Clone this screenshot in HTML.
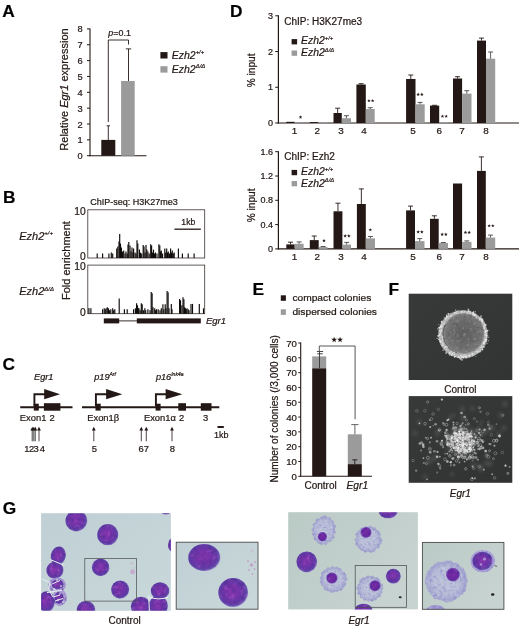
<!DOCTYPE html>
<html><head><meta charset="utf-8"><title>Figure</title>
<style>
html,body{margin:0;padding:0;background:#fff;}
body{width:520px;height:629px;overflow:hidden;}
svg{display:block;filter:blur(0.35px);}
svg text{font-family:"Liberation Sans",sans-serif;stroke:#231815;stroke-width:0.22px;}
</style></head><body>
<svg width="520" height="629" viewBox="0 0 520 629">
<defs>
<linearGradient id="fbg" x1="0" y1="0" x2="1" y2="1"><stop offset="0" stop-color="#383a3a"/><stop offset="1" stop-color="#323434"/></linearGradient>
<linearGradient id="fbg2" x1="0" y1="0" x2="1" y2="1"><stop offset="0" stop-color="#383a3a"/><stop offset="1" stop-color="#313333"/></linearGradient>
<radialGradient id="ring"><stop offset="0.75" stop-color="#989898"/><stop offset="0.9" stop-color="#b8b8b8"/><stop offset="0.97" stop-color="#a6a6a6"/><stop offset="1" stop-color="#707070"/></radialGradient>
<radialGradient id="colony"><stop offset="0" stop-color="#606060"/><stop offset="0.55" stop-color="#6a6a6a"/><stop offset="0.9" stop-color="#767676"/><stop offset="1" stop-color="#8a8a8a"/></radialGradient>
<radialGradient id="cloud"><stop offset="0" stop-color="#8c8c8c" stop-opacity="0.7"/><stop offset="0.5" stop-color="#7a7a7a" stop-opacity="0.5"/><stop offset="0.75" stop-color="#666" stop-opacity="0.2"/><stop offset="1" stop-color="#555" stop-opacity="0"/></radialGradient>
<linearGradient id="gbg1" x1="0" y1="0" x2="1" y2="1"><stop offset="0" stop-color="#bfcfd4"/><stop offset="1" stop-color="#c9d8da"/></linearGradient>
<linearGradient id="gbg2" x1="0" y1="0" x2="1" y2="0.6"><stop offset="0" stop-color="#bacac5"/><stop offset="1" stop-color="#c7d3d1"/></linearGradient>
<radialGradient id="pcell" cx="0.47" cy="0.47" r="0.53"><stop offset="0" stop-color="#8836ae"/><stop offset="0.45" stop-color="#7333a9"/><stop offset="0.8" stop-color="#5f3aa4"/><stop offset="0.93" stop-color="#6a52b0"/><stop offset="1" stop-color="#9f97cc"/></radialGradient>
<radialGradient id="lcell"><stop offset="0" stop-color="#bcc3d8"/><stop offset="0.7" stop-color="#b8bdd7"/><stop offset="0.9" stop-color="#abafd2"/><stop offset="1" stop-color="#a1a2cc"/></radialGradient>
<radialGradient id="nuc"><stop offset="0" stop-color="#7a2aa6"/><stop offset="0.75" stop-color="#63289e"/><stop offset="1" stop-color="#7d58ba"/></radialGradient>
<filter id="b05" x="-5%" y="-5%" width="110%" height="110%"><feGaussianBlur stdDeviation="0.35"/></filter>
<filter id="b06" x="-5%" y="-5%" width="110%" height="110%"><feGaussianBlur stdDeviation="0.5"/></filter>
<filter id="b08" x="-5%" y="-5%" width="110%" height="110%"><feGaussianBlur stdDeviation="0.7"/></filter>
<filter id="b2" x="-10%" y="-10%" width="120%" height="120%"><feGaussianBlur stdDeviation="1.6"/></filter>
<filter id="mottP" x="-5%" y="-5%" width="110%" height="110%" color-interpolation-filters="sRGB">
<feTurbulence type="fractalNoise" baseFrequency="0.28" numOctaves="2" seed="4" result="n"/>
<feColorMatrix in="n" type="matrix" values="0 0 0 0 0.72  0 0 0 0 0.38  0 0 0 0 0.8  1.6 0 0 0 -0.880" result="l0"/>
<feComposite in="l0" in2="SourceAlpha" operator="in" result="l1"/>
<feColorMatrix in="n" type="matrix" values="0 0 0 0 0.27  0 0 0 0 0.16  0 0 0 0 0.55  0 -1.5 0 0 0.750" result="d0"/>
<feComposite in="d0" in2="SourceAlpha" operator="in" result="d1"/>
<feMerge><feMergeNode in="SourceGraphic"/><feMergeNode in="l1"/><feMergeNode in="d1"/></feMerge>
</filter>
<filter id="mottP2" x="-5%" y="-5%" width="110%" height="110%" color-interpolation-filters="sRGB">
<feTurbulence type="fractalNoise" baseFrequency="0.17" numOctaves="2" seed="9" result="n"/>
<feColorMatrix in="n" type="matrix" values="0 0 0 0 0.72  0 0 0 0 0.38  0 0 0 0 0.8  1.6 0 0 0 -0.880" result="l0"/>
<feComposite in="l0" in2="SourceAlpha" operator="in" result="l1"/>
<feColorMatrix in="n" type="matrix" values="0 0 0 0 0.27  0 0 0 0 0.16  0 0 0 0 0.55  0 -1.5 0 0 0.750" result="d0"/>
<feComposite in="d0" in2="SourceAlpha" operator="in" result="d1"/>
<feMerge><feMergeNode in="SourceGraphic"/><feMergeNode in="l1"/><feMergeNode in="d1"/></feMerge>
</filter>
<filter id="mottL" x="-5%" y="-5%" width="110%" height="110%" color-interpolation-filters="sRGB">
<feTurbulence type="fractalNoise" baseFrequency="0.45" numOctaves="2" seed="5" result="n"/>
<feColorMatrix in="n" type="matrix" values="0 0 0 0 0.86  0 0 0 0 0.88  0 0 0 0 0.93  1.5 0 0 0 -0.825" result="l0"/>
<feComposite in="l0" in2="SourceAlpha" operator="in" result="l1"/>
<feColorMatrix in="n" type="matrix" values="0 0 0 0 0.52  0 0 0 0 0.5  0 0 0 0 0.78  0 -1.6 0 0 0.800" result="d0"/>
<feComposite in="d0" in2="SourceAlpha" operator="in" result="d1"/>
<feMerge><feMergeNode in="SourceGraphic"/><feMergeNode in="l1"/><feMergeNode in="d1"/></feMerge>
</filter>
<filter id="mottL2" x="-5%" y="-5%" width="110%" height="110%" color-interpolation-filters="sRGB">
<feTurbulence type="fractalNoise" baseFrequency="0.3" numOctaves="2" seed="11" result="n"/>
<feColorMatrix in="n" type="matrix" values="0 0 0 0 0.86  0 0 0 0 0.88  0 0 0 0 0.93  1.5 0 0 0 -0.825" result="l0"/>
<feComposite in="l0" in2="SourceAlpha" operator="in" result="l1"/>
<feColorMatrix in="n" type="matrix" values="0 0 0 0 0.52  0 0 0 0 0.5  0 0 0 0 0.78  0 -1.6 0 0 0.800" result="d0"/>
<feComposite in="d0" in2="SourceAlpha" operator="in" result="d1"/>
<feMerge><feMergeNode in="SourceGraphic"/><feMergeNode in="l1"/><feMergeNode in="d1"/></feMerge>
</filter>
<filter id="mottG" x="-5%" y="-5%" width="110%" height="110%" color-interpolation-filters="sRGB">
<feTurbulence type="fractalNoise" baseFrequency="0.3" numOctaves="2" seed="2" result="n"/>
<feColorMatrix in="n" type="matrix" values="0 0 0 0 0.72  0 0 0 0 0.72  0 0 0 0 0.72  1.2 0 0 0 -0.660" result="l0"/>
<feComposite in="l0" in2="SourceAlpha" operator="in" result="l1"/>
<feColorMatrix in="n" type="matrix" values="0 0 0 0 0.3  0 0 0 0 0.3  0 0 0 0 0.3  0 -1.2 0 0 0.600" result="d0"/>
<feComposite in="d0" in2="SourceAlpha" operator="in" result="d1"/>
<feMerge><feMergeNode in="SourceGraphic"/><feMergeNode in="l1"/><feMergeNode in="d1"/></feMerge>
</filter>
</defs>
<rect x="0" y="0" width="520" height="629" fill="#ffffff"/>
<text x="2.3" y="17.2" text-anchor="start" fill="#000" style="font-size:17.3px;font-weight:bold;" >A</text>
<text x="3.0" y="203.1" text-anchor="start" fill="#000" style="font-size:17.3px;font-weight:bold;" >B</text>
<text x="2.6" y="369.6" text-anchor="start" fill="#000" style="font-size:17.3px;font-weight:bold;" >C</text>
<text x="230.0" y="17.1" text-anchor="start" fill="#000" style="font-size:17.3px;font-weight:bold;" >D</text>
<text x="252.6" y="294.6" text-anchor="start" fill="#000" style="font-size:17.3px;font-weight:bold;" >E</text>
<text x="388.6" y="294.5" text-anchor="start" fill="#000" style="font-size:17.3px;font-weight:bold;" >F</text>
<text x="2.8" y="513.8" text-anchor="start" fill="#000" style="font-size:17.3px;font-weight:bold;" >G</text>
<line x1="90.0" y1="28.4" x2="90.0" y2="156.2" stroke="#231815" stroke-width="1.1" />
<line x1="89.5" y1="155.7" x2="146.5" y2="155.7" stroke="#231815" stroke-width="1.1" />
<line x1="87.0" y1="155.7" x2="90.0" y2="155.7" stroke="#231815" stroke-width="1" />
<text x="82.7" y="159.2" text-anchor="end" fill="#231815" style="font-size:9.3px;" >0</text>
<line x1="87.0" y1="139.85" x2="90.0" y2="139.85" stroke="#231815" stroke-width="1" />
<text x="82.7" y="143.35" text-anchor="end" fill="#231815" style="font-size:9.3px;" >1</text>
<line x1="87.0" y1="124.0" x2="90.0" y2="124.0" stroke="#231815" stroke-width="1" />
<text x="82.7" y="127.5" text-anchor="end" fill="#231815" style="font-size:9.3px;" >2</text>
<line x1="87.0" y1="108.14999999999999" x2="90.0" y2="108.14999999999999" stroke="#231815" stroke-width="1" />
<text x="82.7" y="111.64999999999999" text-anchor="end" fill="#231815" style="font-size:9.3px;" >3</text>
<line x1="87.0" y1="92.3" x2="90.0" y2="92.3" stroke="#231815" stroke-width="1" />
<text x="82.7" y="95.8" text-anchor="end" fill="#231815" style="font-size:9.3px;" >4</text>
<line x1="87.0" y1="76.45" x2="90.0" y2="76.45" stroke="#231815" stroke-width="1" />
<text x="82.7" y="79.95" text-anchor="end" fill="#231815" style="font-size:9.3px;" >5</text>
<line x1="87.0" y1="60.599999999999994" x2="90.0" y2="60.599999999999994" stroke="#231815" stroke-width="1" />
<text x="82.7" y="64.1" text-anchor="end" fill="#231815" style="font-size:9.3px;" >6</text>
<line x1="87.0" y1="44.75" x2="90.0" y2="44.75" stroke="#231815" stroke-width="1" />
<text x="82.7" y="48.25" text-anchor="end" fill="#231815" style="font-size:9.3px;" >7</text>
<line x1="87.0" y1="28.900000000000006" x2="90.0" y2="28.900000000000006" stroke="#231815" stroke-width="1" />
<text x="82.7" y="32.400000000000006" text-anchor="end" fill="#231815" style="font-size:9.3px;" >8</text>
<text transform="translate(67.5,89.5) rotate(-90)" text-anchor="middle" fill="#231815" style="font-size:11px">Relative <tspan style="font-style:italic">Egr1</tspan> expression</text>
<rect x="101.30" y="139.90" width="14.00" height="15.80" fill="#231815" />
<rect x="121.10" y="81.00" width="13.60" height="74.70" fill="#9b9b9b" />
<line x1="108.3" y1="139.9" x2="108.3" y2="125.8" stroke="#231815" stroke-width="0.9" />
<line x1="106.6" y1="125.8" x2="110.0" y2="125.8" stroke="#231815" stroke-width="0.9" />
<line x1="128.5" y1="81.0" x2="128.5" y2="48.9" stroke="#231815" stroke-width="0.9" />
<line x1="125.8" y1="48.9" x2="131.2" y2="48.9" stroke="#231815" stroke-width="0.9" />
<polyline points="108.3,122.0 108.3,40.0 128.5,40.0 128.5,44.5" fill="none" stroke="#231815" stroke-width="0.9"/>
<text x="119.6" y="36.0" text-anchor="middle" fill="#231815" style="font-size:8.9px"><tspan style="font-style:italic">p</tspan>=0.1</text>
<rect x="160.40" y="52.10" width="7.10" height="6.40" fill="#231815" />
<rect x="160.40" y="66.20" width="7.10" height="6.40" fill="#9b9b9b" />
<text transform="translate(171.7,58.8) scale(1.05,1)" fill="#231815" style="font-size:10.0px;font-style:italic">Ezh2<tspan dy="-4.50" style="font-size:5.7px">+/+</tspan></text>
<text transform="translate(171.7,72.6) scale(1.05,1)" fill="#231815" style="font-size:10.0px;font-style:italic">Ezh2<tspan dy="-4.50" style="font-size:5.7px">&#916;/&#916;</tspan></text>
<line x1="278.4" y1="15.3" x2="278.4" y2="123.5" stroke="#231815" stroke-width="1.2" />
<line x1="277.9" y1="123.0" x2="519" y2="123.0" stroke="#231815" stroke-width="1.2" />
<line x1="275.2" y1="123.0" x2="278.4" y2="123.0" stroke="#231815" stroke-width="1" />
<text x="272.9" y="126.1" text-anchor="end" fill="#231815" style="font-size:9px;" >0</text>
<line x1="275.2" y1="87.26666666666667" x2="278.4" y2="87.26666666666667" stroke="#231815" stroke-width="1" />
<text x="272.9" y="90.36666666666666" text-anchor="end" fill="#231815" style="font-size:9px;" >1</text>
<line x1="275.2" y1="51.53333333333333" x2="278.4" y2="51.53333333333333" stroke="#231815" stroke-width="1" />
<text x="272.9" y="54.63333333333333" text-anchor="end" fill="#231815" style="font-size:9px;" >2</text>
<line x1="275.2" y1="15.799999999999997" x2="278.4" y2="15.799999999999997" stroke="#231815" stroke-width="1" />
<text x="272.9" y="18.9" text-anchor="end" fill="#231815" style="font-size:9px;" >3</text>
<text x="284.3" y="25.1" text-anchor="start" fill="#231815" style="font-size:10px;" >ChIP: H3K27me3</text>
<rect x="291.60" y="39.10" width="5.50" height="5.30" fill="#231815" />
<rect x="291.60" y="50.50" width="5.50" height="5.30" fill="#9b9b9b" />
<text transform="translate(301.1,44.4) scale(1.04,1)" fill="#231815" style="font-size:10.0px;font-style:italic">Ezh2<tspan dy="-4.20" style="font-size:5.6px">+/+</tspan></text>
<text transform="translate(301.1,56.4) scale(1.04,1)" fill="#231815" style="font-size:10.0px;font-style:italic">Ezh2<tspan dy="-4.20" style="font-size:5.6px">&#916;/&#916;</tspan></text>
<rect x="286.30" y="121.80" width="8.30" height="1.20" fill="#231815" />
<rect x="294.60" y="122.40" width="8.20" height="0.60" fill="#9b9b9b" />
<rect x="309.80" y="122.10" width="8.60" height="0.90" fill="#231815" />
<rect x="318.40" y="122.20" width="8.60" height="0.80" fill="#9b9b9b" />
<rect x="333.50" y="113.00" width="8.30" height="10.00" fill="#231815" />
<rect x="341.80" y="118.20" width="9.20" height="4.80" fill="#9b9b9b" />
<line x1="337.65" y1="113.0" x2="337.65" y2="108.2" stroke="#231815" stroke-width="0.9" />
<line x1="335.15" y1="108.2" x2="340.15" y2="108.2" stroke="#231815" stroke-width="0.9" />
<line x1="346.4" y1="118.2" x2="346.4" y2="115.7" stroke="#4a4a4a" stroke-width="0.9" />
<line x1="343.9" y1="115.7" x2="348.9" y2="115.7" stroke="#4a4a4a" stroke-width="0.9" />
<rect x="356.40" y="84.50" width="9.40" height="38.50" fill="#231815" />
<rect x="365.80" y="109.00" width="8.90" height="14.00" fill="#9b9b9b" />
<line x1="361.1" y1="84.5" x2="361.1" y2="83.7" stroke="#231815" stroke-width="0.9" />
<line x1="358.6" y1="83.7" x2="363.6" y2="83.7" stroke="#231815" stroke-width="0.9" />
<line x1="370.25" y1="109.0" x2="370.25" y2="107.7" stroke="#4a4a4a" stroke-width="0.9" />
<line x1="367.75" y1="107.7" x2="372.75" y2="107.7" stroke="#4a4a4a" stroke-width="0.9" />
<rect x="406.10" y="79.00" width="9.40" height="44.00" fill="#231815" />
<rect x="415.50" y="104.30" width="9.20" height="18.70" fill="#9b9b9b" />
<line x1="410.8" y1="79.0" x2="410.8" y2="75.0" stroke="#231815" stroke-width="0.9" />
<line x1="408.3" y1="75.0" x2="413.3" y2="75.0" stroke="#231815" stroke-width="0.9" />
<line x1="420.1" y1="104.3" x2="420.1" y2="102.4" stroke="#4a4a4a" stroke-width="0.9" />
<line x1="417.6" y1="102.4" x2="422.6" y2="102.4" stroke="#4a4a4a" stroke-width="0.9" />
<rect x="430.00" y="105.60" width="9.20" height="17.40" fill="#231815" />
<rect x="439.20" y="122.00" width="8.80" height="1.00" fill="#9b9b9b" />
<line x1="434.6" y1="105.6" x2="434.6" y2="105.3" stroke="#231815" stroke-width="0.9" />
<line x1="432.1" y1="105.3" x2="437.1" y2="105.3" stroke="#231815" stroke-width="0.9" />
<rect x="453.00" y="78.50" width="9.10" height="44.50" fill="#231815" />
<rect x="462.10" y="93.60" width="9.40" height="29.40" fill="#9b9b9b" />
<line x1="457.55" y1="78.5" x2="457.55" y2="76.7" stroke="#231815" stroke-width="0.9" />
<line x1="455.05" y1="76.7" x2="460.05" y2="76.7" stroke="#231815" stroke-width="0.9" />
<line x1="466.8" y1="93.6" x2="466.8" y2="90.7" stroke="#4a4a4a" stroke-width="0.9" />
<line x1="464.3" y1="90.7" x2="469.3" y2="90.7" stroke="#4a4a4a" stroke-width="0.9" />
<rect x="477.00" y="40.60" width="9.00" height="82.40" fill="#231815" />
<rect x="486.00" y="58.70" width="9.20" height="64.30" fill="#9b9b9b" />
<line x1="481.5" y1="40.6" x2="481.5" y2="38.1" stroke="#231815" stroke-width="0.9" />
<line x1="479.0" y1="38.1" x2="484.0" y2="38.1" stroke="#231815" stroke-width="0.9" />
<line x1="490.6" y1="58.7" x2="490.6" y2="52.0" stroke="#4a4a4a" stroke-width="0.9" />
<line x1="488.1" y1="52.0" x2="493.1" y2="52.0" stroke="#4a4a4a" stroke-width="0.9" />
<polygon points="300.50,115.20 300.97,116.45 302.31,116.51 301.26,117.35 301.62,118.64 300.50,117.90 299.38,118.64 299.74,117.35 298.69,116.51 300.03,116.45" fill="#231815"/>
<polygon points="368.95,98.90 369.42,100.15 370.76,100.21 369.71,101.05 370.07,102.34 368.95,101.60 367.83,102.34 368.19,101.05 367.14,100.21 368.48,100.15" fill="#231815"/>
<polygon points="372.65,98.90 373.12,100.15 374.46,100.21 373.41,101.05 373.77,102.34 372.65,101.60 371.53,102.34 371.89,101.05 370.84,100.21 372.18,100.15" fill="#231815"/>
<polygon points="418.15,92.60 418.62,93.85 419.96,93.91 418.91,94.75 419.27,96.04 418.15,95.30 417.03,96.04 417.39,94.75 416.34,93.91 417.68,93.85" fill="#231815"/>
<polygon points="421.85,92.60 422.32,93.85 423.66,93.91 422.61,94.75 422.97,96.04 421.85,95.30 420.73,96.04 421.09,94.75 420.04,93.91 421.38,93.85" fill="#231815"/>
<polygon points="442.45,114.40 442.92,115.65 444.26,115.71 443.21,116.55 443.57,117.84 442.45,117.10 441.33,117.84 441.69,116.55 440.64,115.71 441.98,115.65" fill="#231815"/>
<polygon points="446.15,114.40 446.62,115.65 447.96,115.71 446.91,116.55 447.27,117.84 446.15,117.10 445.03,117.84 445.39,116.55 444.34,115.71 445.68,115.65" fill="#231815"/>
<text x="294.4" y="134.0" text-anchor="middle" fill="#231815" style="font-size:9.9px;" >1</text>
<text x="317.3" y="134.0" text-anchor="middle" fill="#231815" style="font-size:9.9px;" >2</text>
<text x="341.0" y="134.0" text-anchor="middle" fill="#231815" style="font-size:9.9px;" >3</text>
<text x="363.9" y="134.0" text-anchor="middle" fill="#231815" style="font-size:9.9px;" >4</text>
<text x="413.0" y="134.0" text-anchor="middle" fill="#231815" style="font-size:9.9px;" >5</text>
<text x="439.2" y="134.0" text-anchor="middle" fill="#231815" style="font-size:9.9px;" >6</text>
<text x="462.0" y="134.0" text-anchor="middle" fill="#231815" style="font-size:9.9px;" >7</text>
<text x="486.0" y="134.0" text-anchor="middle" fill="#231815" style="font-size:9.9px;" >8</text>
<text transform="translate(255.2,70.4) rotate(-90)" text-anchor="middle" fill="#231815" style="font-size:10.1px">% input</text>
<line x1="278.4" y1="151.20000000000002" x2="278.4" y2="249.4" stroke="#231815" stroke-width="1.2" />
<line x1="277.9" y1="248.9" x2="519" y2="248.9" stroke="#231815" stroke-width="1.2" />
<line x1="275.2" y1="248.9" x2="278.4" y2="248.9" stroke="#231815" stroke-width="1" />
<text x="272.9" y="252.0" text-anchor="end" fill="#231815" style="font-size:9px;" >0</text>
<line x1="275.2" y1="224.60000000000002" x2="278.4" y2="224.60000000000002" stroke="#231815" stroke-width="1" />
<text x="272.9" y="227.70000000000002" text-anchor="end" fill="#231815" style="font-size:9px;" >0.4</text>
<line x1="275.2" y1="200.3" x2="278.4" y2="200.3" stroke="#231815" stroke-width="1" />
<text x="272.9" y="203.4" text-anchor="end" fill="#231815" style="font-size:9px;" >0.8</text>
<line x1="275.2" y1="176.0" x2="278.4" y2="176.0" stroke="#231815" stroke-width="1" />
<text x="272.9" y="179.1" text-anchor="end" fill="#231815" style="font-size:9px;" >1.2</text>
<line x1="275.2" y1="151.70000000000002" x2="278.4" y2="151.70000000000002" stroke="#231815" stroke-width="1" />
<text x="272.9" y="154.8" text-anchor="end" fill="#231815" style="font-size:9px;" >1.6</text>
<text x="284.3" y="160.1" text-anchor="start" fill="#231815" style="font-size:10px;" >ChIP: Ezh2</text>
<rect x="291.60" y="169.90" width="5.50" height="5.30" fill="#231815" />
<rect x="291.60" y="181.00" width="5.50" height="5.30" fill="#9b9b9b" />
<text transform="translate(301.1,174.9) scale(1.04,1)" fill="#231815" style="font-size:10.0px;font-style:italic">Ezh2<tspan dy="-4.20" style="font-size:5.6px">+/+</tspan></text>
<text transform="translate(301.1,186.5) scale(1.04,1)" fill="#231815" style="font-size:10.0px;font-style:italic">Ezh2<tspan dy="-4.20" style="font-size:5.6px">&#916;/&#916;</tspan></text>
<rect x="286.30" y="244.40" width="8.40" height="4.50" fill="#231815" />
<rect x="294.70" y="243.80" width="8.90" height="5.10" fill="#9b9b9b" />
<line x1="290.5" y1="244.4" x2="290.5" y2="242.20000000000002" stroke="#231815" stroke-width="0.9" />
<line x1="288.0" y1="242.20000000000002" x2="293.0" y2="242.20000000000002" stroke="#231815" stroke-width="0.9" />
<line x1="299.15" y1="243.8" x2="299.15" y2="241.9" stroke="#4a4a4a" stroke-width="0.9" />
<line x1="296.65" y1="241.9" x2="301.65" y2="241.9" stroke="#4a4a4a" stroke-width="0.9" />
<rect x="309.80" y="240.10" width="8.90" height="8.80" fill="#231815" />
<rect x="318.70" y="247.00" width="8.80" height="1.90" fill="#9b9b9b" />
<line x1="314.25" y1="240.1" x2="314.25" y2="236.0" stroke="#231815" stroke-width="0.9" />
<line x1="311.75" y1="236.0" x2="316.75" y2="236.0" stroke="#231815" stroke-width="0.9" />
<line x1="323.1" y1="247.0" x2="323.1" y2="246.5" stroke="#4a4a4a" stroke-width="0.9" />
<line x1="320.6" y1="246.5" x2="325.6" y2="246.5" stroke="#4a4a4a" stroke-width="0.9" />
<rect x="333.50" y="211.30" width="8.90" height="37.60" fill="#231815" />
<rect x="342.40" y="244.60" width="8.60" height="4.30" fill="#9b9b9b" />
<line x1="337.95" y1="211.3" x2="337.95" y2="203.20000000000002" stroke="#231815" stroke-width="0.9" />
<line x1="335.45" y1="203.20000000000002" x2="340.45" y2="203.20000000000002" stroke="#231815" stroke-width="0.9" />
<line x1="346.7" y1="244.6" x2="346.7" y2="242.4" stroke="#4a4a4a" stroke-width="0.9" />
<line x1="344.2" y1="242.4" x2="349.2" y2="242.4" stroke="#4a4a4a" stroke-width="0.9" />
<rect x="356.90" y="204.00" width="8.90" height="44.90" fill="#231815" />
<rect x="365.80" y="238.40" width="9.20" height="10.50" fill="#9b9b9b" />
<line x1="361.35" y1="204.0" x2="361.35" y2="188.9" stroke="#231815" stroke-width="0.9" />
<line x1="358.85" y1="188.9" x2="363.85" y2="188.9" stroke="#231815" stroke-width="0.9" />
<line x1="370.4" y1="238.4" x2="370.4" y2="236.5" stroke="#4a4a4a" stroke-width="0.9" />
<line x1="367.9" y1="236.5" x2="372.9" y2="236.5" stroke="#4a4a4a" stroke-width="0.9" />
<rect x="406.10" y="210.40" width="8.90" height="38.50" fill="#231815" />
<rect x="415.00" y="241.10" width="9.50" height="7.80" fill="#9b9b9b" />
<line x1="410.55" y1="210.4" x2="410.55" y2="206.1" stroke="#231815" stroke-width="0.9" />
<line x1="408.05" y1="206.1" x2="413.05" y2="206.1" stroke="#231815" stroke-width="0.9" />
<line x1="419.75" y1="241.1" x2="419.75" y2="238.6" stroke="#4a4a4a" stroke-width="0.9" />
<line x1="417.25" y1="238.6" x2="422.25" y2="238.6" stroke="#4a4a4a" stroke-width="0.9" />
<rect x="430.00" y="218.80" width="8.70" height="30.10" fill="#231815" />
<rect x="438.70" y="243.00" width="9.30" height="5.90" fill="#9b9b9b" />
<line x1="434.35" y1="218.8" x2="434.35" y2="215.8" stroke="#231815" stroke-width="0.9" />
<line x1="431.85" y1="215.8" x2="436.85" y2="215.8" stroke="#231815" stroke-width="0.9" />
<line x1="443.35" y1="243.0" x2="443.35" y2="242.5" stroke="#4a4a4a" stroke-width="0.9" />
<line x1="440.85" y1="242.5" x2="445.85" y2="242.5" stroke="#4a4a4a" stroke-width="0.9" />
<rect x="453.00" y="183.50" width="9.10" height="65.40" fill="#231815" />
<rect x="462.10" y="241.90" width="9.40" height="7.00" fill="#9b9b9b" />
<line x1="466.8" y1="241.9" x2="466.8" y2="240.9" stroke="#4a4a4a" stroke-width="0.9" />
<line x1="464.3" y1="240.9" x2="469.3" y2="240.9" stroke="#4a4a4a" stroke-width="0.9" />
<rect x="477.00" y="170.90" width="8.80" height="78.00" fill="#231815" />
<rect x="485.80" y="237.60" width="9.40" height="11.30" fill="#9b9b9b" />
<line x1="481.4" y1="170.9" x2="481.4" y2="156.9" stroke="#231815" stroke-width="0.9" />
<line x1="478.9" y1="156.9" x2="483.9" y2="156.9" stroke="#231815" stroke-width="0.9" />
<line x1="490.5" y1="237.6" x2="490.5" y2="235.1" stroke="#4a4a4a" stroke-width="0.9" />
<line x1="488.0" y1="235.1" x2="493.0" y2="235.1" stroke="#4a4a4a" stroke-width="0.9" />
<polygon points="324.00,238.70 324.47,239.95 325.81,240.01 324.76,240.85 325.12,242.14 324.00,241.40 322.88,242.14 323.24,240.85 322.19,240.01 323.53,239.95" fill="#231815"/>
<polygon points="345.15,234.10 345.62,235.35 346.96,235.41 345.91,236.25 346.27,237.54 345.15,236.80 344.03,237.54 344.39,236.25 343.34,235.41 344.68,235.35" fill="#231815"/>
<polygon points="348.85,234.10 349.32,235.35 350.66,235.41 349.61,236.25 349.97,237.54 348.85,236.80 347.73,237.54 348.09,236.25 347.04,235.41 348.38,235.35" fill="#231815"/>
<polygon points="370.30,227.90 370.77,229.15 372.11,229.21 371.06,230.05 371.42,231.34 370.30,230.60 369.18,231.34 369.54,230.05 368.49,229.21 369.83,229.15" fill="#231815"/>
<polygon points="418.15,230.10 418.62,231.35 419.96,231.41 418.91,232.25 419.27,233.54 418.15,232.80 417.03,233.54 417.39,232.25 416.34,231.41 417.68,231.35" fill="#231815"/>
<polygon points="421.85,230.10 422.32,231.35 423.66,231.41 422.61,232.25 422.97,233.54 421.85,232.80 420.73,233.54 421.09,232.25 420.04,231.41 421.38,231.35" fill="#231815"/>
<polygon points="442.15,232.50 442.62,233.75 443.96,233.81 442.91,234.65 443.27,235.94 442.15,235.20 441.03,235.94 441.39,234.65 440.34,233.81 441.68,233.75" fill="#231815"/>
<polygon points="445.85,232.50 446.32,233.75 447.66,233.81 446.61,234.65 446.97,235.94 445.85,235.20 444.73,235.94 445.09,234.65 444.04,233.81 445.38,233.75" fill="#231815"/>
<polygon points="465.45,230.60 465.92,231.85 467.26,231.91 466.21,232.75 466.57,234.04 465.45,233.30 464.33,234.04 464.69,232.75 463.64,231.91 464.98,231.85" fill="#231815"/>
<polygon points="469.15,230.60 469.62,231.85 470.96,231.91 469.91,232.75 470.27,234.04 469.15,233.30 468.03,234.04 468.39,232.75 467.34,231.91 468.68,231.85" fill="#231815"/>
<polygon points="489.15,223.90 489.62,225.15 490.96,225.21 489.91,226.05 490.27,227.34 489.15,226.60 488.03,227.34 488.39,226.05 487.34,225.21 488.68,225.15" fill="#231815"/>
<polygon points="492.85,223.90 493.32,225.15 494.66,225.21 493.61,226.05 493.97,227.34 492.85,226.60 491.73,227.34 492.09,226.05 491.04,225.21 492.38,225.15" fill="#231815"/>
<text x="294.4" y="259.6" text-anchor="middle" fill="#231815" style="font-size:9.9px;" >1</text>
<text x="317.3" y="259.6" text-anchor="middle" fill="#231815" style="font-size:9.9px;" >2</text>
<text x="341.0" y="259.6" text-anchor="middle" fill="#231815" style="font-size:9.9px;" >3</text>
<text x="363.9" y="259.6" text-anchor="middle" fill="#231815" style="font-size:9.9px;" >4</text>
<text x="413.0" y="259.6" text-anchor="middle" fill="#231815" style="font-size:9.9px;" >5</text>
<text x="439.2" y="259.6" text-anchor="middle" fill="#231815" style="font-size:9.9px;" >6</text>
<text x="462.0" y="259.6" text-anchor="middle" fill="#231815" style="font-size:9.9px;" >7</text>
<text x="486.0" y="259.6" text-anchor="middle" fill="#231815" style="font-size:9.9px;" >8</text>
<text transform="translate(255.2,205.4) rotate(-90)" text-anchor="middle" fill="#231815" style="font-size:10.1px">% input</text>
<text x="90.2" y="205.3" text-anchor="start" fill="#231815" style="font-size:9px;" >ChIP-seq: H3K27me3</text>
<rect x="87.8" y="209.8" width="116.89999999999999" height="48.19999999999999" fill="none" stroke="#3a3230" stroke-width="0.8"/>
<text x="85.8" y="214.8" text-anchor="end" fill="#231815" style="font-size:10.3px;" >10</text>
<text x="85.8" y="260.0" text-anchor="end" fill="#231815" style="font-size:10.3px;" >0</text>
<rect x="87.8" y="265.1" width="116.89999999999999" height="48.599999999999966" fill="none" stroke="#3a3230" stroke-width="0.8"/>
<text x="85.8" y="270.1" text-anchor="end" fill="#231815" style="font-size:10.3px;" >10</text>
<text x="85.8" y="315.7" text-anchor="end" fill="#231815" style="font-size:10.3px;" >0</text>
<text transform="translate(69.8,260.6) rotate(-90)" text-anchor="middle" fill="#231815" style="font-size:11px">Fold enrichment</text>
<text transform="translate(19.2,239.8) scale(1.0,1)" fill="#231815" style="font-size:11px;font-style:italic">Ezh2<tspan dy="-4.62" style="font-size:6.0px">+/+</tspan></text>
<text transform="translate(19.2,295.4) scale(1.0,1)" fill="#231815" style="font-size:11px;font-style:italic">Ezh2<tspan dy="-4.62" style="font-size:6.0px">&#916;/&#916;</tspan></text>
<line x1="174.4" y1="229.2" x2="200.8" y2="229.2" stroke="#231815" stroke-width="1.3" />
<text x="188.3" y="224.7" text-anchor="middle" fill="#231815" style="font-size:8.6px;" >1kb</text>
<line x1="97.2" y1="258.0" x2="97.2" y2="253.6" stroke="#0d0908" stroke-width="1.15" />
<line x1="102.6" y1="258.0" x2="102.6" y2="253.6" stroke="#0d0908" stroke-width="1.15" />
<line x1="108.9" y1="258.0" x2="108.9" y2="253.6" stroke="#0d0908" stroke-width="1.15" />
<line x1="111.3" y1="258.0" x2="111.3" y2="252.6" stroke="#0d0908" stroke-width="1.15" />
<line x1="112.7" y1="258.0" x2="112.7" y2="253.6" stroke="#0d0908" stroke-width="1.15" />
<line x1="116.7" y1="258.0" x2="116.7" y2="248.6" stroke="#0d0908" stroke-width="1.15" />
<line x1="117.8" y1="258.0" x2="117.8" y2="246.6" stroke="#0d0908" stroke-width="1.15" />
<line x1="119.0" y1="258.0" x2="119.0" y2="241.6" stroke="#0d0908" stroke-width="1.15" />
<line x1="119.7" y1="258.0" x2="119.7" y2="234.1" stroke="#0d0908" stroke-width="1.15" />
<line x1="120.5" y1="258.0" x2="120.5" y2="243.6" stroke="#0d0908" stroke-width="1.15" />
<line x1="121.4" y1="258.0" x2="121.4" y2="247.6" stroke="#0d0908" stroke-width="1.15" />
<line x1="122.5" y1="258.0" x2="122.5" y2="251.6" stroke="#0d0908" stroke-width="1.15" />
<line x1="123.7" y1="258.0" x2="123.7" y2="250.6" stroke="#0d0908" stroke-width="1.15" />
<line x1="125" y1="258.0" x2="125" y2="253.6" stroke="#0d0908" stroke-width="1.15" />
<line x1="126" y1="258.0" x2="126" y2="251.6" stroke="#0d0908" stroke-width="1.15" />
<line x1="127.2" y1="258.0" x2="127.2" y2="253.6" stroke="#0d0908" stroke-width="1.15" />
<line x1="128" y1="258.0" x2="128" y2="244.6" stroke="#0d0908" stroke-width="1.15" />
<line x1="128.8" y1="258.0" x2="128.8" y2="241.9" stroke="#0d0908" stroke-width="1.15" />
<line x1="130" y1="258.0" x2="130" y2="245.6" stroke="#0d0908" stroke-width="1.15" />
<line x1="131" y1="258.0" x2="131" y2="251.6" stroke="#0d0908" stroke-width="1.15" />
<line x1="132" y1="258.0" x2="132" y2="247.6" stroke="#0d0908" stroke-width="1.15" />
<line x1="133" y1="258.0" x2="133" y2="252.6" stroke="#0d0908" stroke-width="1.15" />
<line x1="133.6" y1="258.0" x2="133.6" y2="248.6" stroke="#0d0908" stroke-width="1.15" />
<line x1="135" y1="258.0" x2="135" y2="252.6" stroke="#0d0908" stroke-width="1.15" />
<line x1="136" y1="258.0" x2="136" y2="253.6" stroke="#0d0908" stroke-width="1.15" />
<line x1="137" y1="258.0" x2="137" y2="240.2" stroke="#0d0908" stroke-width="1.15" />
<line x1="137.8" y1="258.0" x2="137.8" y2="243.6" stroke="#0d0908" stroke-width="1.15" />
<line x1="139.4" y1="258.0" x2="139.4" y2="249.6" stroke="#0d0908" stroke-width="1.15" />
<line x1="140.5" y1="258.0" x2="140.5" y2="252.6" stroke="#0d0908" stroke-width="1.15" />
<line x1="141.7" y1="258.0" x2="141.7" y2="253.6" stroke="#0d0908" stroke-width="1.15" />
<line x1="143.2" y1="258.0" x2="143.2" y2="244.9" stroke="#0d0908" stroke-width="1.15" />
<line x1="144" y1="258.0" x2="144" y2="246.6" stroke="#0d0908" stroke-width="1.15" />
<line x1="145" y1="258.0" x2="145" y2="252.6" stroke="#0d0908" stroke-width="1.15" />
<line x1="146" y1="258.0" x2="146" y2="244.9" stroke="#0d0908" stroke-width="1.15" />
<line x1="146.8" y1="258.0" x2="146.8" y2="249.6" stroke="#0d0908" stroke-width="1.15" />
<line x1="147.9" y1="258.0" x2="147.9" y2="251.6" stroke="#0d0908" stroke-width="1.15" />
<line x1="149.2" y1="258.0" x2="149.2" y2="253.6" stroke="#0d0908" stroke-width="1.15" />
<line x1="150.7" y1="258.0" x2="150.7" y2="244.2" stroke="#0d0908" stroke-width="1.15" />
<line x1="151.6" y1="258.0" x2="151.6" y2="245.6" stroke="#0d0908" stroke-width="1.15" />
<line x1="152.6" y1="258.0" x2="152.6" y2="252.6" stroke="#0d0908" stroke-width="1.15" />
<line x1="153.5" y1="258.0" x2="153.5" y2="249.6" stroke="#0d0908" stroke-width="1.15" />
<line x1="154.5" y1="258.0" x2="154.5" y2="253.6" stroke="#0d0908" stroke-width="1.15" />
<line x1="155.4" y1="258.0" x2="155.4" y2="252.6" stroke="#0d0908" stroke-width="1.15" />
<line x1="157" y1="258.0" x2="157" y2="253.6" stroke="#0d0908" stroke-width="1.15" />
<line x1="158.9" y1="258.0" x2="158.9" y2="244.2" stroke="#0d0908" stroke-width="1.15" />
<line x1="159.8" y1="258.0" x2="159.8" y2="245.6" stroke="#0d0908" stroke-width="1.15" />
<line x1="160.6" y1="258.0" x2="160.6" y2="251.6" stroke="#0d0908" stroke-width="1.15" />
<line x1="161.3" y1="258.0" x2="161.3" y2="250.6" stroke="#0d0908" stroke-width="1.15" />
<line x1="162.6" y1="258.0" x2="162.6" y2="253.6" stroke="#0d0908" stroke-width="1.15" />
<line x1="164.8" y1="258.0" x2="164.8" y2="248.6" stroke="#0d0908" stroke-width="1.15" />
<line x1="165.7" y1="258.0" x2="165.7" y2="252.6" stroke="#0d0908" stroke-width="1.15" />
<line x1="166.7" y1="258.0" x2="166.7" y2="248.6" stroke="#0d0908" stroke-width="1.15" />
<line x1="167.5" y1="258.0" x2="167.5" y2="252.6" stroke="#0d0908" stroke-width="1.15" />
<line x1="168.3" y1="258.0" x2="168.3" y2="251.6" stroke="#0d0908" stroke-width="1.15" />
<line x1="169.4" y1="258.0" x2="169.4" y2="253.6" stroke="#0d0908" stroke-width="1.15" />
<line x1="170.6" y1="258.0" x2="170.6" y2="248.6" stroke="#0d0908" stroke-width="1.15" />
<line x1="171.5" y1="258.0" x2="171.5" y2="252.6" stroke="#0d0908" stroke-width="1.15" />
<line x1="172.3" y1="258.0" x2="172.3" y2="250.6" stroke="#0d0908" stroke-width="1.15" />
<line x1="173.3" y1="258.0" x2="173.3" y2="253.6" stroke="#0d0908" stroke-width="1.15" />
<line x1="174.2" y1="258.0" x2="174.2" y2="252.6" stroke="#0d0908" stroke-width="1.15" />
<line x1="178.4" y1="258.0" x2="178.4" y2="248.6" stroke="#0d0908" stroke-width="1.15" />
<line x1="182.4" y1="258.0" x2="182.4" y2="253.6" stroke="#0d0908" stroke-width="1.15" />
<line x1="188.2" y1="258.0" x2="188.2" y2="253.6" stroke="#0d0908" stroke-width="1.15" />
<line x1="194.1" y1="258.0" x2="194.1" y2="253.6" stroke="#0d0908" stroke-width="1.15" />
<line x1="88.9" y1="313.7" x2="88.9" y2="307.90000000000003" stroke="#0d0908" stroke-width="1.15" />
<line x1="90.9" y1="313.7" x2="90.9" y2="308.3" stroke="#0d0908" stroke-width="1.15" />
<line x1="102.6" y1="313.7" x2="102.6" y2="309.3" stroke="#0d0908" stroke-width="1.15" />
<line x1="104.2" y1="313.7" x2="104.2" y2="308.3" stroke="#0d0908" stroke-width="1.15" />
<line x1="105.2" y1="313.7" x2="105.2" y2="309.3" stroke="#0d0908" stroke-width="1.15" />
<line x1="106.1" y1="313.7" x2="106.1" y2="308.3" stroke="#0d0908" stroke-width="1.15" />
<line x1="107.3" y1="313.7" x2="107.3" y2="307.3" stroke="#0d0908" stroke-width="1.15" />
<line x1="108.5" y1="313.7" x2="108.5" y2="308.3" stroke="#0d0908" stroke-width="1.15" />
<line x1="109.6" y1="313.7" x2="109.6" y2="310.3" stroke="#0d0908" stroke-width="1.15" />
<line x1="110.8" y1="313.7" x2="110.8" y2="309.3" stroke="#0d0908" stroke-width="1.15" />
<line x1="112.7" y1="313.7" x2="112.7" y2="308.3" stroke="#0d0908" stroke-width="1.15" />
<line x1="113.7" y1="313.7" x2="113.7" y2="310.3" stroke="#0d0908" stroke-width="1.15" />
<line x1="114.8" y1="313.7" x2="114.8" y2="309.3" stroke="#0d0908" stroke-width="1.15" />
<line x1="119.2" y1="313.7" x2="119.2" y2="298.5" stroke="#0d0908" stroke-width="1.15" />
<line x1="124.4" y1="313.7" x2="124.4" y2="309.3" stroke="#0d0908" stroke-width="1.15" />
<line x1="127.2" y1="313.7" x2="127.2" y2="309.3" stroke="#0d0908" stroke-width="1.15" />
<line x1="133.6" y1="313.7" x2="133.6" y2="309.3" stroke="#0d0908" stroke-width="1.15" />
<line x1="135.4" y1="313.7" x2="135.4" y2="308.3" stroke="#0d0908" stroke-width="1.15" />
<line x1="136.6" y1="313.7" x2="136.6" y2="303.3" stroke="#0d0908" stroke-width="1.15" />
<line x1="137.5" y1="313.7" x2="137.5" y2="305.3" stroke="#0d0908" stroke-width="1.15" />
<line x1="138.3" y1="313.7" x2="138.3" y2="308.3" stroke="#0d0908" stroke-width="1.15" />
<line x1="139" y1="313.7" x2="139" y2="308.3" stroke="#0d0908" stroke-width="1.15" />
<line x1="140.2" y1="313.7" x2="140.2" y2="310.3" stroke="#0d0908" stroke-width="1.15" />
<line x1="141.3" y1="313.7" x2="141.3" y2="303.3" stroke="#0d0908" stroke-width="1.15" />
<line x1="142.2" y1="313.7" x2="142.2" y2="304.3" stroke="#0d0908" stroke-width="1.15" />
<line x1="143.4" y1="313.7" x2="143.4" y2="310.3" stroke="#0d0908" stroke-width="1.15" />
<line x1="144.8" y1="313.7" x2="144.8" y2="308.3" stroke="#0d0908" stroke-width="1.15" />
<line x1="145.7" y1="313.7" x2="145.7" y2="310.3" stroke="#0d0908" stroke-width="1.15" />
<line x1="147.9" y1="313.7" x2="147.9" y2="309.3" stroke="#0d0908" stroke-width="1.15" />
<line x1="150" y1="313.7" x2="150" y2="310.3" stroke="#0d0908" stroke-width="1.15" />
<line x1="151.2" y1="313.7" x2="151.2" y2="291.90000000000003" stroke="#0d0908" stroke-width="1.15" />
<line x1="152.1" y1="313.7" x2="152.1" y2="293.3" stroke="#0d0908" stroke-width="1.15" />
<line x1="153" y1="313.7" x2="153" y2="307.3" stroke="#0d0908" stroke-width="1.15" />
<line x1="154.7" y1="313.7" x2="154.7" y2="308.3" stroke="#0d0908" stroke-width="1.15" />
<line x1="155.6" y1="313.7" x2="155.6" y2="310.3" stroke="#0d0908" stroke-width="1.15" />
<line x1="156.6" y1="313.7" x2="156.6" y2="309.3" stroke="#0d0908" stroke-width="1.15" />
<line x1="158.2" y1="313.7" x2="158.2" y2="309.3" stroke="#0d0908" stroke-width="1.15" />
<line x1="160" y1="313.7" x2="160" y2="310.3" stroke="#0d0908" stroke-width="1.15" />
<line x1="161.3" y1="313.7" x2="161.3" y2="308.3" stroke="#0d0908" stroke-width="1.15" />
<line x1="162.9" y1="313.7" x2="162.9" y2="304.3" stroke="#0d0908" stroke-width="1.15" />
<line x1="163.8" y1="313.7" x2="163.8" y2="309.3" stroke="#0d0908" stroke-width="1.15" />
<line x1="165.2" y1="313.7" x2="165.2" y2="304.3" stroke="#0d0908" stroke-width="1.15" />
<line x1="166" y1="313.7" x2="166" y2="308.3" stroke="#0d0908" stroke-width="1.15" />
<line x1="167.1" y1="313.7" x2="167.1" y2="291.0" stroke="#0d0908" stroke-width="1.15" />
<line x1="168.1" y1="313.7" x2="168.1" y2="292.3" stroke="#0d0908" stroke-width="1.15" />
<line x1="169" y1="313.7" x2="169" y2="308.3" stroke="#0d0908" stroke-width="1.15" />
<line x1="171.3" y1="313.7" x2="171.3" y2="303.90000000000003" stroke="#0d0908" stroke-width="1.15" />
<line x1="172" y1="313.7" x2="172" y2="309.3" stroke="#0d0908" stroke-width="1.15" />
<line x1="179.6" y1="313.7" x2="179.6" y2="299.0" stroke="#0d0908" stroke-width="1.15" />
<line x1="180.5" y1="313.7" x2="180.5" y2="300.3" stroke="#0d0908" stroke-width="1.15" />
<line x1="181.9" y1="313.7" x2="181.9" y2="305.3" stroke="#0d0908" stroke-width="1.15" />
<line x1="183" y1="313.7" x2="183" y2="297.3" stroke="#0d0908" stroke-width="1.15" />
<line x1="183.9" y1="313.7" x2="183.9" y2="299.3" stroke="#0d0908" stroke-width="1.15" />
<line x1="184.6" y1="313.7" x2="184.6" y2="307.3" stroke="#0d0908" stroke-width="1.15" />
<line x1="185.4" y1="313.7" x2="185.4" y2="308.3" stroke="#0d0908" stroke-width="1.15" />
<line x1="186.2" y1="313.7" x2="186.2" y2="309.3" stroke="#0d0908" stroke-width="1.15" />
<line x1="187" y1="313.7" x2="187" y2="308.3" stroke="#0d0908" stroke-width="1.15" />
<line x1="188.2" y1="313.7" x2="188.2" y2="309.3" stroke="#0d0908" stroke-width="1.15" />
<line x1="189" y1="313.7" x2="189" y2="310.3" stroke="#0d0908" stroke-width="1.15" />
<line x1="191" y1="313.7" x2="191" y2="303.90000000000003" stroke="#0d0908" stroke-width="1.15" />
<line x1="192.5" y1="313.7" x2="192.5" y2="303.90000000000003" stroke="#0d0908" stroke-width="1.15" />
<line x1="199.3" y1="313.7" x2="199.3" y2="303.90000000000003" stroke="#0d0908" stroke-width="1.15" />
<line x1="203.5" y1="313.7" x2="203.5" y2="308.3" stroke="#0d0908" stroke-width="1.15" />
<rect x="103.80" y="318.40" width="15.40" height="5.00" fill="#231815" />
<line x1="119" y1="320.9" x2="137" y2="320.9" stroke="#231815" stroke-width="0.9" />
<rect x="136.80" y="318.40" width="64.00" height="5.00" fill="#231815" />
<text x="206.0" y="324.0" text-anchor="start" fill="#231815" style="font-size:9.5px;font-style:italic;" >Egr1</text>
<line x1="20.2" y1="407.2" x2="72.5" y2="407.2" stroke="#231815" stroke-width="2.0" />
<line x1="82.0" y1="407.2" x2="219.3" y2="407.2" stroke="#231815" stroke-width="2.0" />
<text x="34.0" y="379.9" text-anchor="start" fill="#231815" style="font-size:9.2px;font-style:italic;" >Egr1</text>
<polyline points="34.4,406 34.4,394.2 45.2,394.2" fill="none" stroke="#231815" stroke-width="1.9"/>
<polygon points="44.2,389.09999999999997 60.0,394.2 44.2,399.3" fill="#231815"/>
<rect x="33.80" y="403.70" width="5.00" height="6.90" fill="#231815" />
<rect x="43.90" y="403.20" width="16.50" height="7.50" fill="#231815" />
<text x="94.2" y="379.9" fill="#231815" style="font-size:9.2px;font-style:italic">p19<tspan dy="-3.6" style="font-size:5px">Arf</tspan></text>
<polyline points="95.9,406 95.9,394.2 107.1,394.2" fill="none" stroke="#231815" stroke-width="1.9"/>
<polygon points="106.1,389.09999999999997 122.3,394.2 106.1,399.3" fill="#231815"/>
<rect x="95.50" y="403.70" width="5.20" height="6.90" fill="#231815" />
<text x="155.9" y="379.9" fill="#231815" style="font-size:9.2px;font-style:italic">p16<tspan dy="-3.6" style="font-size:5px">Ink4a</tspan></text>
<polyline points="155.9,406 155.9,394.2 166.6,394.2" fill="none" stroke="#231815" stroke-width="1.9"/>
<polygon points="165.6,389.09999999999997 182.3,394.2 165.6,399.3" fill="#231815"/>
<rect x="155.60" y="403.70" width="5.00" height="6.90" fill="#231815" />
<rect x="178.30" y="403.20" width="7.70" height="7.50" fill="#231815" />
<rect x="200.80" y="403.20" width="10.70" height="7.50" fill="#231815" />
<text x="19.8" y="420.5" text-anchor="start" fill="#231815" style="font-size:9.4px;" >Exon1</text>
<text x="49.6" y="420.5" text-anchor="start" fill="#231815" style="font-size:9.4px;" >2</text>
<text x="87.2" y="420.5" text-anchor="start" fill="#231815" style="font-size:9.4px;" >Exon1&#946;</text>
<text x="143.9" y="420.5" text-anchor="start" fill="#231815" style="font-size:9.4px;" >Exon1&#945;</text>
<text x="179.0" y="420.5" text-anchor="start" fill="#231815" style="font-size:9.4px;" >2</text>
<text x="202.9" y="420.5" text-anchor="start" fill="#231815" style="font-size:9.4px;" >3</text>
<line x1="32.3" y1="441.3" x2="32.3" y2="429.0" stroke="#7d7d7d" stroke-width="1.5" />
<polygon points="30.4,430.6 32.3,426.8 34.199999999999996,430.6" fill="#231815"/>
<line x1="33.8" y1="441.3" x2="33.8" y2="429.0" stroke="#7d7d7d" stroke-width="1.5" />
<polygon points="31.9,430.6 33.8,426.8 35.699999999999996,430.6" fill="#231815"/>
<line x1="35.3" y1="441.3" x2="35.3" y2="429.0" stroke="#7d7d7d" stroke-width="1.5" />
<polygon points="33.4,430.6 35.3,426.8 37.199999999999996,430.6" fill="#231815"/>
<line x1="39.0" y1="441.3" x2="39.0" y2="429.0" stroke="#231815" stroke-width="0.8" />
<polygon points="37.1,430.6 39.0,426.8 40.9,430.6" fill="#231815"/>
<line x1="93.8" y1="441.3" x2="93.8" y2="429.0" stroke="#231815" stroke-width="0.8" />
<polygon points="91.89999999999999,430.6 93.8,426.8 95.7,430.6" fill="#231815"/>
<line x1="141.3" y1="441.3" x2="141.3" y2="429.0" stroke="#231815" stroke-width="0.8" />
<polygon points="139.4,430.6 141.3,426.8 143.20000000000002,430.6" fill="#231815"/>
<line x1="146.3" y1="441.3" x2="146.3" y2="429.0" stroke="#231815" stroke-width="0.8" />
<polygon points="144.4,430.6 146.3,426.8 148.20000000000002,430.6" fill="#231815"/>
<line x1="172.0" y1="441.3" x2="172.0" y2="429.0" stroke="#231815" stroke-width="0.8" />
<polygon points="170.1,430.6 172.0,426.8 173.9,430.6" fill="#231815"/>
<text x="24.3" y="451.7" text-anchor="start" fill="#231815" style="font-size:9.4px;" >1</text>
<text x="28.9" y="451.7" text-anchor="start" fill="#231815" style="font-size:9.4px;" >2</text>
<text x="33.6" y="451.7" text-anchor="start" fill="#231815" style="font-size:9.4px;" >3</text>
<text x="39.8" y="451.7" text-anchor="start" fill="#231815" style="font-size:9.4px;" >4</text>
<text x="91.8" y="451.7" text-anchor="start" fill="#231815" style="font-size:9.4px;" >5</text>
<text x="138.6" y="451.7" text-anchor="start" fill="#231815" style="font-size:9.4px;" >6</text>
<text x="143.8" y="451.7" text-anchor="start" fill="#231815" style="font-size:9.4px;" >7</text>
<text x="169.8" y="451.7" text-anchor="start" fill="#231815" style="font-size:9.4px;" >8</text>
<line x1="217.5" y1="427.0" x2="223.8" y2="427.0" stroke="#231815" stroke-width="2.0" />
<text x="214.0" y="437.6" text-anchor="start" fill="#231815" style="font-size:9px;" >1kb</text>
<rect x="280.80" y="295.30" width="5.10" height="5.50" fill="#231815" />
<rect x="280.80" y="309.30" width="5.10" height="5.60" fill="#9b9b9b" />
<text transform="translate(292.4,300.7) scale(1.075,1)" text-anchor="start" fill="#231815" style="font-size:9.5px;" >compact colonies</text>
<text transform="translate(292.4,315.0) scale(1.075,1)" text-anchor="start" fill="#231815" style="font-size:9.5px;" >dispersed colonies</text>
<line x1="300.7" y1="342.5" x2="300.7" y2="476.8" stroke="#231815" stroke-width="1.1" />
<line x1="300.2" y1="476.3" x2="372.0" y2="476.3" stroke="#231815" stroke-width="1.1" />
<line x1="298.3" y1="476.3" x2="300.7" y2="476.3" stroke="#231815" stroke-width="1" />
<text x="296.8" y="480.1" text-anchor="end" fill="#231815" style="font-size:9.6px;" >0</text>
<line x1="298.3" y1="461.4888888888889" x2="300.7" y2="461.4888888888889" stroke="#231815" stroke-width="1" />
<text x="296.8" y="465.2888888888889" text-anchor="end" fill="#231815" style="font-size:9.6px;" >10</text>
<line x1="298.3" y1="446.6777777777778" x2="300.7" y2="446.6777777777778" stroke="#231815" stroke-width="1" />
<text x="296.8" y="450.4777777777778" text-anchor="end" fill="#231815" style="font-size:9.6px;" >20</text>
<line x1="298.3" y1="431.8666666666667" x2="300.7" y2="431.8666666666667" stroke="#231815" stroke-width="1" />
<text x="296.8" y="435.6666666666667" text-anchor="end" fill="#231815" style="font-size:9.6px;" >30</text>
<line x1="298.3" y1="417.05555555555554" x2="300.7" y2="417.05555555555554" stroke="#231815" stroke-width="1" />
<text x="296.8" y="420.85555555555555" text-anchor="end" fill="#231815" style="font-size:9.6px;" >40</text>
<line x1="298.3" y1="402.24444444444447" x2="300.7" y2="402.24444444444447" stroke="#231815" stroke-width="1" />
<text x="296.8" y="406.0444444444445" text-anchor="end" fill="#231815" style="font-size:9.6px;" >50</text>
<line x1="298.3" y1="387.43333333333334" x2="300.7" y2="387.43333333333334" stroke="#231815" stroke-width="1" />
<text x="296.8" y="391.23333333333335" text-anchor="end" fill="#231815" style="font-size:9.6px;" >60</text>
<line x1="298.3" y1="372.62222222222226" x2="300.7" y2="372.62222222222226" stroke="#231815" stroke-width="1" />
<text x="296.8" y="376.4222222222223" text-anchor="end" fill="#231815" style="font-size:9.6px;" >70</text>
<line x1="298.3" y1="357.81111111111113" x2="300.7" y2="357.81111111111113" stroke="#231815" stroke-width="1" />
<text x="296.8" y="361.61111111111114" text-anchor="end" fill="#231815" style="font-size:9.6px;" >60</text>
<line x1="298.3" y1="343.0" x2="300.7" y2="343.0" stroke="#231815" stroke-width="1" />
<text x="296.8" y="346.8" text-anchor="end" fill="#231815" style="font-size:9.6px;" >70</text>
<text transform="translate(277.9,408.8) rotate(-90)" text-anchor="middle" fill="#231815" style="font-size:10.1px">Number of colonies (/3,000 cells)</text>
<rect x="312.20" y="368.20" width="14.00" height="108.10" fill="#231815" />
<rect x="312.20" y="356.40" width="14.00" height="11.80" fill="#9b9b9b" />
<line x1="319.5" y1="351.5" x2="319.5" y2="368.0" stroke="#333" stroke-width="0.9" />
<line x1="316.9" y1="351.5" x2="323.1" y2="351.5" stroke="#333" stroke-width="0.9" />
<line x1="317.2" y1="353.8" x2="322.8" y2="353.8" stroke="#333" stroke-width="0.9" />
<rect x="347.80" y="464.10" width="14.00" height="12.20" fill="#231815" />
<rect x="347.80" y="434.30" width="14.00" height="29.80" fill="#9b9b9b" />
<line x1="354.9" y1="434.3" x2="354.9" y2="424.6" stroke="#555" stroke-width="0.9" />
<line x1="351.29999999999995" y1="424.6" x2="358.5" y2="424.6" stroke="#555" stroke-width="0.9" />
<line x1="354.8" y1="464.1" x2="354.8" y2="459.8" stroke="#231815" stroke-width="0.9" />
<line x1="352.3" y1="459.8" x2="357.3" y2="459.8" stroke="#231815" stroke-width="0.9" />
<polyline points="319.3,351.5 319.3,346.0 355.1,346.0 355.1,419.3" fill="none" stroke="#444" stroke-width="0.9"/>
<polygon points="334.15,336.80 334.89,338.78 337.00,338.87 335.35,340.19 335.91,342.23 334.15,341.06 332.39,342.23 332.95,340.19 331.30,338.87 333.41,338.78" fill="#231815"/>
<polygon points="340.05,336.80 340.79,338.78 342.90,338.87 341.25,340.19 341.81,342.23 340.05,341.06 338.29,342.23 338.85,340.19 337.20,338.87 339.31,338.78" fill="#231815"/>
<text x="320.6" y="488.9" text-anchor="middle" fill="#231815" style="font-size:10px;" >Control</text>
<text x="357.3" y="488.9" text-anchor="middle" fill="#231815" style="font-size:10.2px;font-style:italic;" >Egr1</text>
<rect x="408.70" y="293.70" width="103.60" height="86.30" fill="url(#fbg)" />
<g filter="url(#b06)">
<ellipse cx="462.9" cy="334.3" rx="24.9" ry="24.3" fill="url(#ring)"/>
<ellipse cx="463.9" cy="333.2" rx="20.6" ry="20.2" fill="url(#colony)" filter="url(#mottG)"/>
<path d="M445.4,324.3 A20.8,20.4 0 0 0 456.9,352.8" fill="none" stroke="#3c3c3c" stroke-width="1.1" opacity="0.6"/>
</g>
<g filter="url(#b05)">
<circle cx="452.1" cy="355.4" r="0.49" fill="#ececec" opacity="0.67"/>
<circle cx="446.6" cy="352.2" r="0.47" fill="#ececec" opacity="0.61"/>
<circle cx="485.1" cy="344.5" r="0.86" fill="#ececec" opacity="0.42"/>
<circle cx="466.7" cy="355.9" r="0.74" fill="#ececec" opacity="0.59"/>
<circle cx="487.3" cy="330.7" r="0.59" fill="#ececec" opacity="0.44"/>
<circle cx="480.6" cy="350.0" r="0.54" fill="#ececec" opacity="0.70"/>
<circle cx="447.7" cy="316.6" r="0.48" fill="#ececec" opacity="0.39"/>
<circle cx="469.0" cy="355.3" r="0.61" fill="#ececec" opacity="0.70"/>
<circle cx="440.4" cy="340.9" r="0.80" fill="#ececec" opacity="0.50"/>
<circle cx="442.4" cy="324.2" r="0.81" fill="#ececec" opacity="0.52"/>
<circle cx="487.2" cy="331.3" r="0.83" fill="#ececec" opacity="0.44"/>
<circle cx="438.3" cy="336.0" r="0.83" fill="#ececec" opacity="0.69"/>
<circle cx="479.8" cy="317.9" r="0.75" fill="#ececec" opacity="0.70"/>
<circle cx="442.6" cy="339.9" r="0.69" fill="#ececec" opacity="0.75"/>
<circle cx="484.0" cy="342.5" r="0.95" fill="#ececec" opacity="0.84"/>
<circle cx="457.9" cy="356.4" r="0.46" fill="#ececec" opacity="0.63"/>
<circle cx="475.7" cy="356.4" r="0.51" fill="#ececec" opacity="0.50"/>
<circle cx="443.1" cy="350.1" r="0.72" fill="#ececec" opacity="0.88"/>
<circle cx="472.3" cy="314.6" r="0.66" fill="#ececec" opacity="0.57"/>
<circle cx="479.3" cy="320.1" r="0.54" fill="#ececec" opacity="0.49"/>
<circle cx="465.3" cy="356.5" r="0.58" fill="#ececec" opacity="0.35"/>
<circle cx="442.7" cy="345.3" r="0.93" fill="#ececec" opacity="0.76"/>
<circle cx="440.7" cy="332.2" r="0.48" fill="#ececec" opacity="0.89"/>
<circle cx="467.1" cy="313.0" r="0.65" fill="#ececec" opacity="0.59"/>
<circle cx="482.8" cy="349.0" r="0.55" fill="#ececec" opacity="0.45"/>
<circle cx="449.5" cy="354.9" r="0.50" fill="#ececec" opacity="0.57"/>
<circle cx="484.8" cy="337.8" r="0.52" fill="#ececec" opacity="0.50"/>
<circle cx="449.6" cy="352.8" r="0.87" fill="#ececec" opacity="0.95"/>
<circle cx="438.5" cy="339.5" r="0.62" fill="#ececec" opacity="0.51"/>
<circle cx="475.4" cy="311.7" r="0.71" fill="#ececec" opacity="0.44"/>
<circle cx="439.1" cy="327.8" r="0.94" fill="#ececec" opacity="0.87"/>
<circle cx="454.9" cy="312.2" r="0.53" fill="#ececec" opacity="0.81"/>
<circle cx="441.6" cy="330.0" r="0.56" fill="#ececec" opacity="0.84"/>
<circle cx="485.1" cy="332.2" r="0.86" fill="#ececec" opacity="0.79"/>
<circle cx="466.2" cy="356.3" r="0.46" fill="#ececec" opacity="0.37"/>
<circle cx="458.5" cy="357.1" r="0.93" fill="#ececec" opacity="0.62"/>
<circle cx="483.1" cy="326.1" r="0.63" fill="#ececec" opacity="0.48"/>
<circle cx="466.4" cy="357.5" r="0.76" fill="#ececec" opacity="0.89"/>
<circle cx="475.5" cy="315.1" r="0.85" fill="#ececec" opacity="0.40"/>
<circle cx="451.1" cy="316.1" r="0.83" fill="#ececec" opacity="0.64"/>
<circle cx="472.5" cy="353.8" r="0.85" fill="#ececec" opacity="0.93"/>
<circle cx="444.7" cy="347.9" r="0.81" fill="#ececec" opacity="0.45"/>
<circle cx="479.9" cy="351.3" r="0.85" fill="#ececec" opacity="0.44"/>
<circle cx="473.0" cy="315.4" r="0.63" fill="#ececec" opacity="0.68"/>
<circle cx="479.8" cy="352.0" r="0.77" fill="#ececec" opacity="0.67"/>
<circle cx="484.4" cy="325.0" r="0.86" fill="#ececec" opacity="0.48"/>
<circle cx="462.6" cy="357.4" r="0.74" fill="#ececec" opacity="0.51"/>
<circle cx="441.7" cy="345.8" r="0.63" fill="#ececec" opacity="0.62"/>
<circle cx="444.2" cy="323.8" r="0.91" fill="#ececec" opacity="0.65"/>
<circle cx="437.9" cy="329.4" r="0.54" fill="#ececec" opacity="0.35"/>
<circle cx="470.3" cy="311.7" r="0.81" fill="#ececec" opacity="0.68"/>
<circle cx="452.6" cy="353.8" r="0.84" fill="#ececec" opacity="0.41"/>
<circle cx="440.7" cy="325.7" r="0.84" fill="#ececec" opacity="0.65"/>
<circle cx="442.6" cy="326.2" r="0.67" fill="#ececec" opacity="0.72"/>
<circle cx="440.2" cy="333.5" r="0.68" fill="#ececec" opacity="0.67"/>
<circle cx="442.4" cy="337.1" r="0.89" fill="#ececec" opacity="0.92"/>
<circle cx="461.5" cy="356.2" r="0.87" fill="#ececec" opacity="0.43"/>
<circle cx="481.1" cy="351.3" r="0.49" fill="#ececec" opacity="0.75"/>
<circle cx="467.6" cy="313.2" r="0.81" fill="#ececec" opacity="0.75"/>
<circle cx="476.7" cy="351.2" r="0.56" fill="#ececec" opacity="0.92"/>
<circle cx="444.8" cy="347.4" r="0.87" fill="#ececec" opacity="0.45"/>
<circle cx="442.5" cy="343.4" r="0.55" fill="#ececec" opacity="0.54"/>
<circle cx="458.6" cy="310.5" r="0.67" fill="#ececec" opacity="0.36"/>
<circle cx="452.1" cy="353.0" r="0.48" fill="#ececec" opacity="0.94"/>
<circle cx="468.9" cy="310.4" r="0.47" fill="#ececec" opacity="0.82"/>
<circle cx="459.8" cy="357.8" r="0.91" fill="#ececec" opacity="0.84"/>
<circle cx="461.6" cy="357.9" r="0.74" fill="#ececec" opacity="0.77"/>
<circle cx="483.8" cy="347.1" r="0.66" fill="#ececec" opacity="0.39"/>
<circle cx="484.1" cy="325.9" r="0.49" fill="#ececec" opacity="0.86"/>
<circle cx="483.2" cy="343.1" r="0.62" fill="#ececec" opacity="0.68"/>
<circle cx="484.4" cy="323.9" r="0.71" fill="#ececec" opacity="0.49"/>
<circle cx="482.3" cy="349.9" r="0.61" fill="#ececec" opacity="0.53"/>
<circle cx="464.3" cy="311.0" r="0.54" fill="#ececec" opacity="0.56"/>
<circle cx="488.7" cy="337.2" r="0.73" fill="#ececec" opacity="0.46"/>
<circle cx="437.1" cy="338.3" r="0.67" fill="#ececec" opacity="0.65"/>
<circle cx="474.9" cy="314.4" r="0.79" fill="#ececec" opacity="0.94"/>
<circle cx="451.3" cy="351.4" r="0.77" fill="#ececec" opacity="0.59"/>
<circle cx="448.8" cy="353.9" r="0.49" fill="#ececec" opacity="0.79"/>
<circle cx="462.0" cy="359.8" r="0.89" fill="#ececec" opacity="0.75"/>
<circle cx="458.2" cy="357.1" r="0.68" fill="#ececec" opacity="0.44"/>
<circle cx="440.6" cy="342.0" r="0.94" fill="#ececec" opacity="0.68"/>
<circle cx="463.6" cy="354.7" r="0.63" fill="#ececec" opacity="0.35"/>
<circle cx="446.2" cy="349.3" r="0.55" fill="#ececec" opacity="0.65"/>
<circle cx="488.3" cy="335.1" r="0.47" fill="#ececec" opacity="0.36"/>
<circle cx="454.9" cy="356.2" r="0.71" fill="#ececec" opacity="0.80"/>
<circle cx="450.5" cy="315.8" r="0.64" fill="#ececec" opacity="0.55"/>
<circle cx="487.2" cy="332.0" r="0.77" fill="#ececec" opacity="0.38"/>
<circle cx="474.2" cy="315.7" r="0.82" fill="#ececec" opacity="0.84"/>
<circle cx="477.8" cy="351.7" r="0.87" fill="#ececec" opacity="0.83"/>
<circle cx="473.6" cy="314.3" r="0.79" fill="#ececec" opacity="0.77"/>
<circle cx="466.0" cy="358.2" r="0.63" fill="#ececec" opacity="0.41"/>
<circle cx="474.8" cy="314.9" r="0.76" fill="#ececec" opacity="0.76"/>
<circle cx="438.1" cy="335.9" r="0.82" fill="#ececec" opacity="0.65"/>
<circle cx="437.6" cy="328.7" r="0.58" fill="#ececec" opacity="0.39"/>
<circle cx="460.8" cy="355.5" r="0.82" fill="#ececec" opacity="0.94"/>
<circle cx="439.7" cy="335.2" r="0.79" fill="#ececec" opacity="0.81"/>
<circle cx="444.3" cy="317.9" r="0.58" fill="#ececec" opacity="0.80"/>
<circle cx="454.5" cy="357.2" r="0.58" fill="#ececec" opacity="0.75"/>
<circle cx="454.8" cy="313.5" r="0.71" fill="#ececec" opacity="0.63"/>
<circle cx="439.1" cy="339.3" r="0.55" fill="#ececec" opacity="0.94"/>
<circle cx="485.7" cy="324.9" r="0.86" fill="#ececec" opacity="0.93"/>
<circle cx="440.5" cy="341.5" r="0.92" fill="#ececec" opacity="0.48"/>
<circle cx="441.7" cy="322.7" r="0.93" fill="#ececec" opacity="0.43"/>
<circle cx="472.9" cy="313.7" r="0.80" fill="#ececec" opacity="0.49"/>
<circle cx="482.8" cy="319.8" r="0.70" fill="#ececec" opacity="0.62"/>
<circle cx="455.1" cy="356.7" r="0.61" fill="#ececec" opacity="0.85"/>
<circle cx="485.5" cy="334.5" r="0.51" fill="#ececec" opacity="0.91"/>
<circle cx="457.8" cy="313.3" r="0.64" fill="#ececec" opacity="0.59"/>
<circle cx="486.0" cy="334.1" r="0.66" fill="#ececec" opacity="0.52"/>
<circle cx="486.3" cy="341.4" r="0.59" fill="#ececec" opacity="0.91"/>
<circle cx="463.0" cy="357.5" r="0.54" fill="#ececec" opacity="0.57"/>
<circle cx="484.2" cy="328.4" r="0.77" fill="#ececec" opacity="0.90"/>
<circle cx="484.5" cy="326.1" r="0.47" fill="#ececec" opacity="0.79"/>
<circle cx="442.5" cy="340.7" r="0.59" fill="#ececec" opacity="0.38"/>
<circle cx="484.8" cy="323.7" r="0.62" fill="#ececec" opacity="0.53"/>
<circle cx="461.4" cy="313.0" r="0.78" fill="#ececec" opacity="0.53"/>
<circle cx="441.1" cy="326.3" r="0.53" fill="#ececec" opacity="0.47"/>
<circle cx="482.3" cy="321.6" r="0.90" fill="#ececec" opacity="0.95"/>
<circle cx="439.9" cy="341.6" r="0.50" fill="#ececec" opacity="0.56"/>
<circle cx="483.2" cy="347.0" r="0.73" fill="#ececec" opacity="0.88"/>
<circle cx="462.8" cy="311.3" r="0.71" fill="#ececec" opacity="0.58"/>
<circle cx="450.0" cy="354.7" r="0.93" fill="#ececec" opacity="0.43"/>
<circle cx="440.7" cy="333.8" r="0.56" fill="#ececec" opacity="0.51"/>
<circle cx="463.1" cy="356.9" r="0.93" fill="#ececec" opacity="0.86"/>
<circle cx="481.0" cy="316.2" r="0.90" fill="#ececec" opacity="0.63"/>
<circle cx="441.7" cy="321.7" r="0.91" fill="#ececec" opacity="0.85"/>
<circle cx="476.4" cy="317.5" r="0.50" fill="#ececec" opacity="0.44"/>
<circle cx="441.1" cy="331.3" r="0.81" fill="#ececec" opacity="0.74"/>
<circle cx="465.1" cy="311.5" r="0.47" fill="#ececec" opacity="0.82"/>
<circle cx="465.2" cy="354.9" r="0.60" fill="#ececec" opacity="0.43"/>
<circle cx="462.6" cy="356.0" r="0.51" fill="#ececec" opacity="0.39"/>
<circle cx="440.7" cy="331.0" r="0.56" fill="#ececec" opacity="0.71"/>
<circle cx="486.8" cy="335.8" r="0.93" fill="#ececec" opacity="0.74"/>
<circle cx="480.3" cy="319.1" r="0.57" fill="#ececec" opacity="0.93"/>
<circle cx="455.7" cy="310.3" r="0.79" fill="#ececec" opacity="0.60"/>
<circle cx="461.9" cy="355.8" r="0.56" fill="#ececec" opacity="0.37"/>
<circle cx="450.9" cy="353.3" r="0.55" fill="#ececec" opacity="0.83"/>
<circle cx="461.3" cy="311.6" r="0.93" fill="#ececec" opacity="0.54"/>
<circle cx="473.2" cy="313.0" r="0.83" fill="#ececec" opacity="0.53"/>
<circle cx="485.2" cy="327.5" r="0.56" fill="#ececec" opacity="0.60"/>
<circle cx="451.8" cy="315.8" r="0.65" fill="#ececec" opacity="0.48"/>
<circle cx="487.5" cy="330.4" r="0.65" fill="#ececec" opacity="0.89"/>
<circle cx="479.7" cy="319.6" r="0.92" fill="#ececec" opacity="0.55"/>
<circle cx="471.4" cy="353.6" r="0.47" fill="#ececec" opacity="0.75"/>
<circle cx="446.2" cy="349.9" r="0.53" fill="#ececec" opacity="0.35"/>
<circle cx="458.6" cy="356.7" r="0.51" fill="#ececec" opacity="0.93"/>
<circle cx="469.1" cy="356.4" r="0.86" fill="#ececec" opacity="0.61"/>
<circle cx="485.2" cy="341.3" r="0.91" fill="#ececec" opacity="0.47"/>
<circle cx="446.1" cy="353.0" r="0.86" fill="#ececec" opacity="0.81"/>
<circle cx="488.3" cy="340.8" r="0.58" fill="#ececec" opacity="0.80"/>
<circle cx="482.0" cy="320.5" r="0.93" fill="#ececec" opacity="0.72"/>
<circle cx="461.2" cy="355.6" r="0.59" fill="#ececec" opacity="0.35"/>
<circle cx="463.7" cy="312.8" r="0.92" fill="#ececec" opacity="0.36"/>
<circle cx="465.2" cy="356.6" r="0.93" fill="#ececec" opacity="0.58"/>
<circle cx="462.7" cy="356.8" r="0.91" fill="#ececec" opacity="0.46"/>
<circle cx="470.2" cy="313.4" r="0.84" fill="#ececec" opacity="0.71"/>
<circle cx="451.9" cy="354.4" r="0.84" fill="#ececec" opacity="0.40"/>
<circle cx="470.1" cy="354.7" r="0.48" fill="#ececec" opacity="0.37"/>
<circle cx="440.6" cy="326.8" r="0.89" fill="#ececec" opacity="0.94"/>
<circle cx="460.5" cy="359.2" r="0.80" fill="#ececec" opacity="0.62"/>
<circle cx="465.2" cy="356.8" r="0.79" fill="#ececec" opacity="0.80"/>
<circle cx="476.0" cy="316.0" r="0.87" fill="#ececec" opacity="0.53"/>
<circle cx="441.5" cy="325.0" r="0.55" fill="#ececec" opacity="0.50"/>
<circle cx="463.6" cy="357.9" r="0.74" fill="#ececec" opacity="0.55"/>
<circle cx="446.8" cy="346.3" r="0.57" fill="#ececec" opacity="0.84"/>
<circle cx="448.3" cy="313.8" r="0.86" fill="#ececec" opacity="0.85"/>
<circle cx="484.1" cy="321.9" r="0.51" fill="#ececec" opacity="0.46"/>
<circle cx="485.6" cy="330.5" r="0.64" fill="#ececec" opacity="0.87"/>
<circle cx="440.4" cy="341.6" r="0.92" fill="#ececec" opacity="0.41"/>
<circle cx="444.2" cy="321.7" r="0.63" fill="#ececec" opacity="0.43"/>
<circle cx="469.7" cy="356.6" r="0.78" fill="#ececec" opacity="0.47"/>
<circle cx="486.7" cy="336.0" r="0.54" fill="#ececec" opacity="0.54"/>
<circle cx="469.2" cy="354.8" r="0.48" fill="#ececec" opacity="0.41"/>
<circle cx="445.3" cy="347.6" r="0.50" fill="#ececec" opacity="0.45"/>
<circle cx="455.0" cy="312.6" r="0.60" fill="#ececec" opacity="0.92"/>
<circle cx="454.4" cy="354.4" r="0.66" fill="#ececec" opacity="0.87"/>
<circle cx="486.6" cy="333.8" r="0.81" fill="#ececec" opacity="0.47"/>
<circle cx="485.0" cy="335.1" r="0.86" fill="#ececec" opacity="0.59"/>
<circle cx="480.3" cy="318.9" r="0.46" fill="#ececec" opacity="0.68"/>
<circle cx="446.5" cy="314.9" r="0.64" fill="#ececec" opacity="0.65"/>
<circle cx="477.5" cy="352.8" r="0.91" fill="#ececec" opacity="0.42"/>
<circle cx="441.6" cy="335.5" r="0.55" fill="#ececec" opacity="0.43"/>
<circle cx="483.4" cy="326.8" r="0.48" fill="#ececec" opacity="0.91"/>
<circle cx="447.2" cy="347.3" r="0.86" fill="#ececec" opacity="0.45"/>
<circle cx="468.3" cy="311.3" r="0.87" fill="#ececec" opacity="0.85"/>
<circle cx="472.7" cy="355.7" r="0.71" fill="#ececec" opacity="0.58"/>
<circle cx="480.1" cy="350.7" r="0.90" fill="#ececec" opacity="0.37"/>
<circle cx="438.8" cy="324.6" r="0.51" fill="#ececec" opacity="0.71"/>
<circle cx="441.6" cy="327.5" r="0.66" fill="#ececec" opacity="0.70"/>
<circle cx="443.4" cy="343.9" r="0.67" fill="#ececec" opacity="0.36"/>
<circle cx="445.8" cy="318.9" r="0.83" fill="#ececec" opacity="0.82"/>
<circle cx="439.7" cy="340.4" r="0.50" fill="#ececec" opacity="0.43"/>
<circle cx="440.8" cy="344.4" r="0.71" fill="#ececec" opacity="0.37"/>
<circle cx="446.8" cy="316.2" r="0.84" fill="#ececec" opacity="0.66"/>
<circle cx="484.9" cy="341.9" r="0.93" fill="#ececec" opacity="0.43"/>
<circle cx="476.5" cy="317.7" r="0.86" fill="#ececec" opacity="0.47"/>
<circle cx="486.1" cy="331.7" r="0.91" fill="#ececec" opacity="0.45"/>
<circle cx="469.0" cy="310.3" r="0.83" fill="#ececec" opacity="0.45"/>
<circle cx="482.0" cy="320.1" r="0.52" fill="#ececec" opacity="0.65"/>
<circle cx="484.1" cy="322.9" r="0.70" fill="#ececec" opacity="0.54"/>
<circle cx="486.5" cy="339.7" r="0.92" fill="#ececec" opacity="0.76"/>
<circle cx="482.2" cy="319.8" r="0.51" fill="#ececec" opacity="0.67"/>
<circle cx="447.3" cy="316.8" r="0.73" fill="#ececec" opacity="0.70"/>
<circle cx="481.0" cy="318.2" r="0.76" fill="#ececec" opacity="0.59"/>
<circle cx="470.0" cy="311.9" r="0.74" fill="#ececec" opacity="0.57"/>
<circle cx="465.1" cy="311.5" r="0.82" fill="#ececec" opacity="0.38"/>
<circle cx="473.1" cy="313.0" r="0.94" fill="#ececec" opacity="0.70"/>
<circle cx="450.1" cy="313.5" r="0.52" fill="#ececec" opacity="0.72"/>
<circle cx="442.4" cy="343.4" r="0.52" fill="#ececec" opacity="0.49"/>
<circle cx="448.4" cy="314.0" r="0.50" fill="#ececec" opacity="0.56"/>
<circle cx="466.5" cy="356.0" r="0.55" fill="#ececec" opacity="0.72"/>
<circle cx="438.9" cy="338.0" r="0.57" fill="#ececec" opacity="0.44"/>
<circle cx="481.8" cy="347.0" r="0.84" fill="#ececec" opacity="0.59"/>
<circle cx="460.7" cy="358.4" r="0.73" fill="#ececec" opacity="0.56"/>
<circle cx="448.6" cy="316.1" r="0.82" fill="#ececec" opacity="0.50"/>
<circle cx="483.2" cy="320.6" r="0.65" fill="#ececec" opacity="0.49"/>
<circle cx="486.9" cy="343.3" r="0.92" fill="#ececec" opacity="0.44"/>
<circle cx="470.0" cy="355.3" r="0.77" fill="#ececec" opacity="0.84"/>
<circle cx="473.8" cy="355.0" r="0.47" fill="#ececec" opacity="0.88"/>
<circle cx="468.3" cy="309.4" r="0.82" fill="#ececec" opacity="0.63"/>
<circle cx="461.7" cy="311.4" r="0.50" fill="#ececec" opacity="0.49"/>
<circle cx="486.0" cy="339.9" r="0.80" fill="#ececec" opacity="0.86"/>
<circle cx="457.2" cy="311.5" r="0.67" fill="#ececec" opacity="0.82"/>
<circle cx="439.4" cy="330.9" r="0.93" fill="#ececec" opacity="0.48"/>
<circle cx="481.0" cy="317.7" r="0.57" fill="#ececec" opacity="0.80"/>
<circle cx="484.1" cy="326.8" r="0.89" fill="#ececec" opacity="0.55"/>
<circle cx="464.3" cy="355.0" r="0.80" fill="#ececec" opacity="0.75"/>
<circle cx="486.1" cy="331.3" r="0.80" fill="#ececec" opacity="0.86"/>
<circle cx="443.0" cy="342.4" r="0.60" fill="#ececec" opacity="0.48"/>
<circle cx="445.2" cy="317.6" r="0.52" fill="#ececec" opacity="0.37"/>
<circle cx="480.2" cy="347.6" r="0.52" fill="#ececec" opacity="0.37"/>
<circle cx="484.9" cy="340.0" r="0.80" fill="#ececec" opacity="0.79"/>
<circle cx="484.0" cy="343.3" r="0.86" fill="#ececec" opacity="0.84"/>
<circle cx="482.0" cy="319.1" r="0.91" fill="#ececec" opacity="0.92"/>
<circle cx="482.4" cy="349.4" r="0.87" fill="#ececec" opacity="0.84"/>
<circle cx="448.1" cy="318.1" r="0.59" fill="#ececec" opacity="0.41"/>
<circle cx="481.3" cy="347.0" r="0.61" fill="#ececec" opacity="0.60"/>
<circle cx="486.8" cy="337.4" r="0.81" fill="#ececec" opacity="0.57"/>
<circle cx="454.1" cy="352.4" r="0.88" fill="#ececec" opacity="0.72"/>
<circle cx="486.0" cy="338.8" r="0.84" fill="#ececec" opacity="0.56"/>
<circle cx="456.4" cy="312.6" r="0.88" fill="#ececec" opacity="0.40"/>
<circle cx="473.6" cy="312.1" r="0.83" fill="#ececec" opacity="0.94"/>
<circle cx="486.3" cy="334.9" r="0.85" fill="#ececec" opacity="0.46"/>
<circle cx="439.6" cy="335.1" r="0.58" fill="#ececec" opacity="0.92"/>
<circle cx="457.9" cy="357.1" r="0.70" fill="#ececec" opacity="0.42"/>
<circle cx="446.8" cy="316.2" r="0.80" fill="#ececec" opacity="0.82"/>
<circle cx="446.4" cy="317.6" r="0.65" fill="#ececec" opacity="0.88"/>
<circle cx="484.5" cy="346.9" r="0.58" fill="#ececec" opacity="0.89"/>
<circle cx="439.7" cy="334.1" r="0.57" fill="#ececec" opacity="0.63"/>
<circle cx="441.5" cy="330.1" r="0.77" fill="#ececec" opacity="0.56"/>
<circle cx="451.7" cy="355.2" r="0.78" fill="#ececec" opacity="0.80"/>
<circle cx="474.2" cy="354.3" r="0.74" fill="#ececec" opacity="0.43"/>
<circle cx="442.6" cy="339.1" r="0.55" fill="#ececec" opacity="0.53"/>
<circle cx="456.4" cy="313.5" r="0.53" fill="#ececec" opacity="0.50"/>
<circle cx="452.5" cy="353.7" r="0.61" fill="#ececec" opacity="0.46"/>
<circle cx="488.9" cy="330.3" r="0.50" fill="#ececec" opacity="0.58"/>
<circle cx="485.2" cy="332.1" r="0.67" fill="#ececec" opacity="0.47"/>
<circle cx="447.0" cy="316.1" r="0.64" fill="#ececec" opacity="0.37"/>
<circle cx="445.8" cy="346.5" r="0.70" fill="#ececec" opacity="0.73"/>
<circle cx="439.3" cy="339.7" r="0.65" fill="#ececec" opacity="0.79"/>
</g>
<text x="460.3" y="392.8" text-anchor="middle" fill="#231815" style="font-size:10px;" >Control</text>
<rect x="408.70" y="396.10" width="103.60" height="86.70" fill="url(#fbg2)" />
<g filter="url(#b2)">
<circle cx="498.7" cy="434.1" r="2.8" fill="#8a8a8a" opacity="0.2"/>
<circle cx="483.8" cy="433.4" r="2.3" fill="#8a8a8a" opacity="0.2"/>
<circle cx="481.3" cy="468.8" r="3.1" fill="#8a8a8a" opacity="0.2"/>
<circle cx="479.2" cy="466.6" r="3.0" fill="#8a8a8a" opacity="0.2"/>
<circle cx="473.7" cy="436.0" r="2.4" fill="#8a8a8a" opacity="0.2"/>
<circle cx="472.5" cy="408.5" r="2.6" fill="#8a8a8a" opacity="0.2"/>
<circle cx="486.9" cy="455.9" r="2.9" fill="#8a8a8a" opacity="0.2"/>
<circle cx="437.1" cy="433.6" r="2.6" fill="#8a8a8a" opacity="0.2"/>
<circle cx="471.9" cy="432.5" r="2.9" fill="#8a8a8a" opacity="0.2"/>
<circle cx="500.8" cy="415.1" r="2.9" fill="#8a8a8a" opacity="0.2"/>
<circle cx="486.5" cy="430.9" r="2.7" fill="#8a8a8a" opacity="0.2"/>
<circle cx="504.9" cy="403.9" r="2.8" fill="#8a8a8a" opacity="0.2"/>
<circle cx="428.8" cy="461.2" r="3.3" fill="#8a8a8a" opacity="0.2"/>
<circle cx="462.3" cy="408.8" r="2.8" fill="#8a8a8a" opacity="0.2"/>
<circle cx="464.3" cy="456.2" r="2.7" fill="#8a8a8a" opacity="0.2"/>
<circle cx="473.5" cy="464.8" r="2.7" fill="#8a8a8a" opacity="0.2"/>
<circle cx="452.1" cy="474.0" r="2.3" fill="#8a8a8a" opacity="0.2"/>
<circle cx="477.8" cy="431.2" r="3.1" fill="#8a8a8a" opacity="0.2"/>
<circle cx="425.2" cy="476.8" r="2.5" fill="#8a8a8a" opacity="0.2"/>
<circle cx="419.0" cy="422.1" r="2.6" fill="#8a8a8a" opacity="0.2"/>
<circle cx="414.9" cy="433.2" r="2.6" fill="#8a8a8a" opacity="0.2"/>
<circle cx="479.1" cy="428.1" r="2.4" fill="#8a8a8a" opacity="0.2"/>
<circle cx="434.7" cy="458.1" r="3.3" fill="#8a8a8a" opacity="0.2"/>
<circle cx="463.0" cy="417.9" r="3.1" fill="#8a8a8a" opacity="0.2"/>
<circle cx="450.4" cy="417.3" r="2.2" fill="#8a8a8a" opacity="0.2"/>
<circle cx="486.4" cy="463.3" r="2.9" fill="#8a8a8a" opacity="0.2"/>
<circle cx="457.6" cy="444.3" r="2.3" fill="#8a8a8a" opacity="0.2"/>
<circle cx="503.9" cy="428.2" r="2.9" fill="#8a8a8a" opacity="0.2"/>
<circle cx="490.3" cy="463.8" r="2.7" fill="#8a8a8a" opacity="0.2"/>
<circle cx="441.3" cy="443.2" r="2.2" fill="#8a8a8a" opacity="0.2"/>
<circle cx="491.7" cy="428.3" r="3.2" fill="#8a8a8a" opacity="0.2"/>
<circle cx="438.7" cy="430.0" r="2.4" fill="#8a8a8a" opacity="0.2"/>
<circle cx="453.6" cy="415.3" r="2.0" fill="#8a8a8a" opacity="0.2"/>
<circle cx="481.3" cy="422.7" r="2.3" fill="#8a8a8a" opacity="0.2"/>
</g>
<ellipse cx="461.7" cy="442.0" rx="21" ry="21" fill="url(#cloud)"/>
<g filter="url(#b05)">
<circle cx="437.5" cy="451.9" r="1.05" fill="#b5b5b5" opacity="0.91"/>
<circle cx="487.4" cy="413.7" r="1.28" fill="none" stroke="#b5b5b5" stroke-width="0.7" opacity="0.50"/>
<circle cx="437.2" cy="472.5" r="0.97" fill="#b5b5b5" opacity="0.49"/>
<circle cx="454.2" cy="465.1" r="1.32" fill="#b5b5b5" opacity="0.54"/>
<circle cx="437.1" cy="456.7" r="1.23" fill="#c4c4c4" opacity="0.94"/>
<circle cx="433.1" cy="414.0" r="1.35" fill="none" stroke="#a2a2a2" stroke-width="0.7" opacity="0.59"/>
<circle cx="476.7" cy="430.5" r="1.12" fill="none" stroke="#b5b5b5" stroke-width="0.7" opacity="0.41"/>
<circle cx="419.9" cy="443.5" r="1.35" fill="#b5b5b5" opacity="0.80"/>
<circle cx="446.0" cy="432.4" r="1.16" fill="none" stroke="#b5b5b5" stroke-width="0.7" opacity="0.66"/>
<circle cx="429.9" cy="442.4" r="1.06" fill="#a2a2a2" opacity="0.66"/>
<circle cx="444.0" cy="424.5" r="1.02" fill="none" stroke="#b5b5b5" stroke-width="0.7" opacity="0.68"/>
<circle cx="482.8" cy="441.9" r="1.12" fill="#b5b5b5" opacity="0.90"/>
<circle cx="424.9" cy="410.7" r="1.33" fill="none" stroke="#a2a2a2" stroke-width="0.7" opacity="0.50"/>
<circle cx="466.4" cy="420.1" r="1.17" fill="none" stroke="#c4c4c4" stroke-width="0.7" opacity="0.46"/>
<circle cx="439.8" cy="465.9" r="1.25" fill="none" stroke="#d6d6d6" stroke-width="0.7" opacity="0.47"/>
<circle cx="437.0" cy="441.2" r="1.29" fill="#c4c4c4" opacity="0.62"/>
<circle cx="439.1" cy="430.4" r="0.87" fill="#b5b5b5" opacity="0.81"/>
<circle cx="488.4" cy="422.2" r="1.05" fill="none" stroke="#b5b5b5" stroke-width="0.7" opacity="0.37"/>
<circle cx="464.7" cy="417.0" r="1.35" fill="#b5b5b5" opacity="0.76"/>
<circle cx="431.4" cy="418.9" r="1.33" fill="none" stroke="#b5b5b5" stroke-width="0.7" opacity="0.56"/>
<circle cx="470.0" cy="457.3" r="1.05" fill="none" stroke="#b5b5b5" stroke-width="0.7" opacity="0.77"/>
<circle cx="490.4" cy="444.1" r="1.16" fill="#c4c4c4" opacity="0.58"/>
<circle cx="450.8" cy="462.2" r="1.17" fill="#d6d6d6" opacity="0.91"/>
<circle cx="421.6" cy="442.5" r="1.28" fill="#b5b5b5" opacity="0.66"/>
<circle cx="485.7" cy="451.1" r="1.40" fill="#d6d6d6" opacity="0.78"/>
<circle cx="483.8" cy="469.7" r="0.90" fill="#d6d6d6" opacity="0.69"/>
<circle cx="423.4" cy="458.1" r="0.92" fill="#b5b5b5" opacity="0.93"/>
<circle cx="493.4" cy="458.6" r="1.01" fill="none" stroke="#b5b5b5" stroke-width="0.7" opacity="0.67"/>
<circle cx="469.6" cy="458.2" r="1.37" fill="none" stroke="#b5b5b5" stroke-width="0.7" opacity="0.66"/>
<circle cx="494.6" cy="477.9" r="1.28" fill="none" stroke="#b5b5b5" stroke-width="0.7" opacity="0.57"/>
<circle cx="496.5" cy="424.2" r="0.86" fill="#b5b5b5" opacity="0.46"/>
<circle cx="427.7" cy="402.0" r="1.16" fill="none" stroke="#b5b5b5" stroke-width="0.7" opacity="0.62"/>
<circle cx="416.8" cy="410.9" r="1.29" fill="none" stroke="#a2a2a2" stroke-width="0.7" opacity="0.55"/>
<circle cx="448.6" cy="419.5" r="0.91" fill="#c4c4c4" opacity="0.93"/>
<circle cx="423.4" cy="446.7" r="1.28" fill="#d6d6d6" opacity="0.73"/>
<circle cx="480.6" cy="411.7" r="1.25" fill="#a2a2a2" opacity="0.46"/>
<circle cx="425.1" cy="423.7" r="1.34" fill="none" stroke="#c4c4c4" stroke-width="0.7" opacity="0.62"/>
<circle cx="502.8" cy="415.3" r="1.00" fill="none" stroke="#d6d6d6" stroke-width="0.7" opacity="0.47"/>
<circle cx="479.4" cy="407.8" r="1.07" fill="none" stroke="#b5b5b5" stroke-width="0.7" opacity="0.75"/>
<circle cx="493.9" cy="440.8" r="1.43" fill="none" stroke="#c4c4c4" stroke-width="0.7" opacity="0.71"/>
<circle cx="440.1" cy="468.3" r="1.12" fill="#b5b5b5" opacity="0.64"/>
<circle cx="450.9" cy="465.3" r="1.11" fill="#b5b5b5" opacity="0.55"/>
<circle cx="443.0" cy="446.1" r="1.05" fill="#b5b5b5" opacity="0.48"/>
<circle cx="416.2" cy="470.7" r="1.14" fill="#a2a2a2" opacity="0.69"/>
<circle cx="472.6" cy="466.4" r="1.01" fill="#c4c4c4" opacity="0.74"/>
<circle cx="445.0" cy="459.3" r="1.46" fill="none" stroke="#c4c4c4" stroke-width="0.7" opacity="0.57"/>
<circle cx="429.8" cy="448.3" r="1.30" fill="none" stroke="#b5b5b5" stroke-width="0.7" opacity="0.51"/>
<circle cx="427.6" cy="438.5" r="1.10" fill="none" stroke="#b5b5b5" stroke-width="0.7" opacity="0.74"/>
<circle cx="471.9" cy="479.1" r="1.47" fill="none" stroke="#a2a2a2" stroke-width="0.7" opacity="0.70"/>
<circle cx="474.4" cy="418.6" r="1.02" fill="none" stroke="#c4c4c4" stroke-width="0.7" opacity="0.44"/>
<circle cx="483.3" cy="448.1" r="1.10" fill="#a2a2a2" opacity="0.92"/>
<circle cx="484.6" cy="429.7" r="1.20" fill="#b5b5b5" opacity="0.91"/>
<circle cx="452.7" cy="458.6" r="1.38" fill="#c4c4c4" opacity="0.78"/>
<circle cx="439.8" cy="456.7" r="1.05" fill="#d6d6d6" opacity="0.57"/>
<circle cx="481.7" cy="435.5" r="1.28" fill="none" stroke="#a2a2a2" stroke-width="0.7" opacity="0.36"/>
<circle cx="489.6" cy="428.8" r="1.24" fill="#a2a2a2" opacity="0.77"/>
<circle cx="477.8" cy="459.6" r="1.22" fill="#b5b5b5" opacity="0.60"/>
<circle cx="445.2" cy="432.9" r="1.05" fill="#b5b5b5" opacity="0.65"/>
<circle cx="430.2" cy="452.3" r="1.34" fill="#c4c4c4" opacity="0.68"/>
<circle cx="490.5" cy="427.1" r="1.42" fill="none" stroke="#b5b5b5" stroke-width="0.7" opacity="0.39"/>
<circle cx="461.5" cy="413.0" r="1.36" fill="#d6d6d6" opacity="0.64"/>
<circle cx="494.4" cy="445.8" r="1.04" fill="#b5b5b5" opacity="0.86"/>
<circle cx="492.1" cy="474.3" r="0.95" fill="#c4c4c4" opacity="0.68"/>
<circle cx="479.6" cy="429.4" r="1.00" fill="#d6d6d6" opacity="0.66"/>
<circle cx="476.9" cy="421.6" r="0.99" fill="#a2a2a2" opacity="0.50"/>
<circle cx="429.9" cy="449.6" r="1.49" fill="none" stroke="#d6d6d6" stroke-width="0.7" opacity="0.38"/>
<circle cx="472.3" cy="478.2" r="0.92" fill="#d6d6d6" opacity="0.83"/>
<circle cx="499.5" cy="436.0" r="1.40" fill="#d6d6d6" opacity="0.91"/>
<circle cx="488.3" cy="424.8" r="1.39" fill="#b5b5b5" opacity="0.52"/>
<circle cx="443.1" cy="423.0" r="1.04" fill="#d6d6d6" opacity="0.52"/>
<circle cx="469.4" cy="457.2" r="1.20" fill="none" stroke="#d6d6d6" stroke-width="0.7" opacity="0.47"/>
<circle cx="425.7" cy="437.8" r="0.96" fill="#c4c4c4" opacity="0.49"/>
<circle cx="509.6" cy="466.9" r="0.95" fill="#d6d6d6" opacity="0.52"/>
<circle cx="473.6" cy="468.5" r="1.03" fill="none" stroke="#a2a2a2" stroke-width="0.7" opacity="0.68"/>
<circle cx="423.8" cy="463.0" r="1.04" fill="#b5b5b5" opacity="0.59"/>
<circle cx="505.5" cy="465.7" r="1.11" fill="#d6d6d6" opacity="0.89"/>
<circle cx="438.4" cy="463.8" r="1.17" fill="#c4c4c4" opacity="0.88"/>
<circle cx="427.1" cy="479.3" r="0.89" fill="#d6d6d6" opacity="0.63"/>
<circle cx="479.1" cy="433.0" r="1.34" fill="#d6d6d6" opacity="0.60"/>
<circle cx="507.8" cy="473.4" r="1.01" fill="none" stroke="#d6d6d6" stroke-width="0.7" opacity="0.71"/>
<circle cx="486.8" cy="455.3" r="1.16" fill="none" stroke="#c4c4c4" stroke-width="0.7" opacity="0.60"/>
<circle cx="491.4" cy="434.7" r="1.35" fill="none" stroke="#b5b5b5" stroke-width="0.7" opacity="0.44"/>
<circle cx="419.5" cy="423.3" r="0.91" fill="#c4c4c4" opacity="0.88"/>
<circle cx="457.1" cy="423.5" r="1.23" fill="none" stroke="#b5b5b5" stroke-width="0.7" opacity="0.61"/>
<circle cx="476.0" cy="453.6" r="0.98" fill="#c4c4c4" opacity="0.56"/>
<circle cx="447.4" cy="420.3" r="0.94" fill="#d6d6d6" opacity="0.86"/>
<circle cx="427.9" cy="457.7" r="1.47" fill="none" stroke="#b5b5b5" stroke-width="0.7" opacity="0.70"/>
<circle cx="447.4" cy="461.5" r="1.24" fill="#c4c4c4" opacity="0.87"/>
<circle cx="426.4" cy="463.6" r="1.07" fill="none" stroke="#b5b5b5" stroke-width="0.7" opacity="0.66"/>
<circle cx="438.3" cy="409.3" r="1.27" fill="none" stroke="#b5b5b5" stroke-width="0.7" opacity="0.38"/>
<circle cx="413.1" cy="460.5" r="1.21" fill="none" stroke="#b5b5b5" stroke-width="0.7" opacity="0.53"/>
<circle cx="502.3" cy="452.4" r="1.32" fill="none" stroke="#b5b5b5" stroke-width="0.7" opacity="0.47"/>
<circle cx="453.3" cy="427.2" r="1.29" fill="#a2a2a2" opacity="0.47"/>
<circle cx="489.4" cy="444.0" r="1.01" fill="#c4c4c4" opacity="0.60"/>
<circle cx="446.4" cy="424.7" r="1.48" fill="none" stroke="#b5b5b5" stroke-width="0.7" opacity="0.76"/>
<circle cx="439.5" cy="430.0" r="1.26" fill="none" stroke="#c4c4c4" stroke-width="0.7" opacity="0.75"/>
<circle cx="482.6" cy="431.6" r="1.37" fill="none" stroke="#a2a2a2" stroke-width="0.7" opacity="0.68"/>
<circle cx="453.4" cy="422.5" r="0.96" fill="#c4c4c4" opacity="0.81"/>
<circle cx="421.1" cy="450.6" r="1.11" fill="#a2a2a2" opacity="0.61"/>
<circle cx="442.0" cy="440.7" r="1.07" fill="#d6d6d6" opacity="0.91"/>
<circle cx="479.5" cy="466.6" r="1.16" fill="none" stroke="#c4c4c4" stroke-width="0.7" opacity="0.47"/>
<circle cx="489.6" cy="450.8" r="1.03" fill="none" stroke="#b5b5b5" stroke-width="0.7" opacity="0.74"/>
<circle cx="434.4" cy="451.2" r="1.31" fill="#b5b5b5" opacity="0.63"/>
<circle cx="482.8" cy="440.8" r="1.33" fill="none" stroke="#c4c4c4" stroke-width="0.7" opacity="0.41"/>
<circle cx="474.9" cy="478.3" r="1.13" fill="#a2a2a2" opacity="0.82"/>
<circle cx="441.4" cy="444.7" r="1.05" fill="none" stroke="#c4c4c4" stroke-width="0.7" opacity="0.53"/>
<circle cx="496.6" cy="440.7" r="1.39" fill="none" stroke="#c4c4c4" stroke-width="0.7" opacity="0.74"/>
<circle cx="435.6" cy="424.3" r="1.23" fill="#d6d6d6" opacity="0.59"/>
<circle cx="431.1" cy="437.7" r="0.85" fill="#d6d6d6" opacity="0.82"/>
<circle cx="496.5" cy="440.1" r="1.09" fill="none" stroke="#d6d6d6" stroke-width="0.7" opacity="0.49"/>
<circle cx="430.2" cy="427.0" r="1.03" fill="#b5b5b5" opacity="0.93"/>
<circle cx="429.8" cy="420.1" r="0.96" fill="#c4c4c4" opacity="0.66"/>
<circle cx="482.4" cy="447.4" r="1.27" fill="none" stroke="#d6d6d6" stroke-width="0.7" opacity="0.49"/>
<circle cx="446.6" cy="430.0" r="1.13" fill="#d6d6d6" opacity="0.79"/>
<circle cx="433.2" cy="425.6" r="0.86" fill="#a2a2a2" opacity="0.48"/>
<circle cx="465.8" cy="468.8" r="1.20" fill="none" stroke="#d6d6d6" stroke-width="0.7" opacity="0.60"/>
<circle cx="423.1" cy="444.7" r="1.34" fill="#d6d6d6" opacity="0.74"/>
<circle cx="488.2" cy="456.7" r="1.49" fill="none" stroke="#a2a2a2" stroke-width="0.7" opacity="0.72"/>
<circle cx="441.9" cy="399.6" r="1.14" fill="#d6d6d6" opacity="0.86"/>
<circle cx="495.4" cy="453.3" r="1.50" fill="none" stroke="#b5b5b5" stroke-width="0.7" opacity="0.64"/>
<circle cx="463.9" cy="433.3" r="0.98" fill="#a8a8a8" opacity="0.91"/>
<circle cx="473.7" cy="443.1" r="1.10" fill="none" stroke="#bcbcbc" stroke-width="0.65" opacity="0.65"/>
<circle cx="449.3" cy="439.6" r="0.91" fill="#cdcdcd" opacity="0.51"/>
<circle cx="470.8" cy="449.0" r="1.28" fill="none" stroke="#bcbcbc" stroke-width="0.65" opacity="0.62"/>
<circle cx="466.1" cy="428.9" r="0.99" fill="#bcbcbc" opacity="0.52"/>
<circle cx="472.5" cy="444.2" r="1.17" fill="#bcbcbc" opacity="0.48"/>
<circle cx="473.3" cy="443.4" r="0.99" fill="#cdcdcd" opacity="0.93"/>
<circle cx="461.8" cy="456.2" r="1.13" fill="none" stroke="#bcbcbc" stroke-width="0.65" opacity="0.48"/>
<circle cx="452.1" cy="444.7" r="1.18" fill="#dedede" opacity="0.70"/>
<circle cx="447.3" cy="453.6" r="0.90" fill="#cdcdcd" opacity="0.81"/>
<circle cx="470.4" cy="447.2" r="0.97" fill="none" stroke="#cdcdcd" stroke-width="0.65" opacity="0.84"/>
<circle cx="471.2" cy="450.1" r="1.16" fill="none" stroke="#dedede" stroke-width="0.65" opacity="0.83"/>
<circle cx="447.0" cy="437.0" r="1.01" fill="none" stroke="#dedede" stroke-width="0.65" opacity="0.51"/>
<circle cx="456.3" cy="450.0" r="0.95" fill="none" stroke="#cdcdcd" stroke-width="0.65" opacity="0.49"/>
<circle cx="446.0" cy="436.5" r="1.10" fill="#dedede" opacity="0.53"/>
<circle cx="451.7" cy="451.5" r="1.09" fill="none" stroke="#cdcdcd" stroke-width="0.65" opacity="0.49"/>
<circle cx="480.4" cy="435.1" r="0.92" fill="#a8a8a8" opacity="0.94"/>
<circle cx="446.9" cy="441.1" r="0.76" fill="#cdcdcd" opacity="0.71"/>
<circle cx="463.7" cy="428.2" r="1.19" fill="none" stroke="#dedede" stroke-width="0.65" opacity="0.47"/>
<circle cx="458.4" cy="433.1" r="1.17" fill="none" stroke="#cdcdcd" stroke-width="0.65" opacity="0.45"/>
<circle cx="446.7" cy="442.0" r="1.19" fill="none" stroke="#a8a8a8" stroke-width="0.65" opacity="0.44"/>
<circle cx="450.8" cy="449.8" r="1.15" fill="#a8a8a8" opacity="0.84"/>
<circle cx="476.1" cy="457.3" r="1.05" fill="none" stroke="#a8a8a8" stroke-width="0.65" opacity="0.76"/>
<circle cx="480.5" cy="444.9" r="1.24" fill="none" stroke="#dedede" stroke-width="0.65" opacity="0.56"/>
<circle cx="472.9" cy="451.6" r="0.72" fill="#cdcdcd" opacity="0.47"/>
<circle cx="458.4" cy="451.1" r="0.98" fill="#dedede" opacity="0.76"/>
<circle cx="464.6" cy="461.6" r="0.83" fill="#dedede" opacity="0.67"/>
<circle cx="478.0" cy="442.1" r="1.14" fill="#a8a8a8" opacity="0.74"/>
<circle cx="453.5" cy="424.8" r="0.81" fill="#bcbcbc" opacity="0.91"/>
<circle cx="456.4" cy="427.7" r="1.01" fill="#dedede" opacity="0.56"/>
<circle cx="475.5" cy="437.6" r="1.05" fill="#dedede" opacity="0.82"/>
<circle cx="443.1" cy="447.5" r="0.80" fill="#bcbcbc" opacity="0.79"/>
<circle cx="441.3" cy="443.3" r="1.18" fill="none" stroke="#cdcdcd" stroke-width="0.65" opacity="0.76"/>
<circle cx="473.7" cy="439.7" r="0.82" fill="#cdcdcd" opacity="0.48"/>
<circle cx="465.6" cy="453.9" r="1.17" fill="none" stroke="#a8a8a8" stroke-width="0.65" opacity="0.62"/>
<circle cx="477.2" cy="442.6" r="1.16" fill="none" stroke="#dedede" stroke-width="0.65" opacity="0.71"/>
<circle cx="452.1" cy="436.3" r="1.23" fill="none" stroke="#cdcdcd" stroke-width="0.65" opacity="0.65"/>
<circle cx="453.6" cy="428.4" r="0.90" fill="#dedede" opacity="0.55"/>
<circle cx="447.0" cy="443.2" r="1.01" fill="none" stroke="#bcbcbc" stroke-width="0.65" opacity="0.49"/>
<circle cx="474.6" cy="452.7" r="0.98" fill="#a8a8a8" opacity="0.59"/>
<circle cx="448.4" cy="444.6" r="1.19" fill="none" stroke="#dedede" stroke-width="0.65" opacity="0.84"/>
<circle cx="447.9" cy="442.9" r="1.09" fill="#dedede" opacity="0.61"/>
<circle cx="459.1" cy="453.0" r="0.74" fill="#a8a8a8" opacity="0.82"/>
<circle cx="467.2" cy="448.9" r="1.16" fill="none" stroke="#a8a8a8" stroke-width="0.65" opacity="0.78"/>
<circle cx="465.6" cy="424.9" r="0.86" fill="#a8a8a8" opacity="0.54"/>
<circle cx="449.7" cy="454.7" r="0.83" fill="#a8a8a8" opacity="0.48"/>
<circle cx="471.5" cy="436.8" r="1.17" fill="#dedede" opacity="0.70"/>
<circle cx="457.6" cy="454.4" r="0.99" fill="none" stroke="#bcbcbc" stroke-width="0.65" opacity="0.46"/>
<circle cx="477.6" cy="440.0" r="0.81" fill="#dedede" opacity="0.64"/>
<circle cx="466.6" cy="433.9" r="0.93" fill="none" stroke="#dedede" stroke-width="0.65" opacity="0.42"/>
<circle cx="479.5" cy="449.2" r="1.11" fill="#bcbcbc" opacity="0.90"/>
<circle cx="452.0" cy="445.5" r="0.93" fill="#a8a8a8" opacity="0.72"/>
<circle cx="447.3" cy="438.9" r="1.18" fill="#cdcdcd" opacity="0.76"/>
<circle cx="454.5" cy="427.9" r="0.91" fill="#a8a8a8" opacity="0.63"/>
<circle cx="471.6" cy="431.1" r="0.81" fill="#bcbcbc" opacity="0.82"/>
<circle cx="448.2" cy="434.9" r="1.00" fill="none" stroke="#dedede" stroke-width="0.65" opacity="0.60"/>
<circle cx="472.6" cy="439.9" r="0.76" fill="#cdcdcd" opacity="0.88"/>
<circle cx="451.3" cy="440.0" r="0.81" fill="#a8a8a8" opacity="0.68"/>
<circle cx="460.2" cy="426.3" r="1.04" fill="#bcbcbc" opacity="0.85"/>
<circle cx="451.1" cy="441.5" r="1.18" fill="#bcbcbc" opacity="0.71"/>
<circle cx="447.1" cy="438.0" r="1.09" fill="#cdcdcd" opacity="0.52"/>
<circle cx="463.0" cy="457.3" r="1.18" fill="none" stroke="#a8a8a8" stroke-width="0.65" opacity="0.83"/>
<circle cx="470.2" cy="451.4" r="1.14" fill="#bcbcbc" opacity="0.73"/>
<circle cx="472.5" cy="460.5" r="1.07" fill="#a8a8a8" opacity="0.46"/>
<circle cx="450.6" cy="441.1" r="0.72" fill="#a8a8a8" opacity="0.75"/>
<circle cx="465.1" cy="432.5" r="1.26" fill="none" stroke="#bcbcbc" stroke-width="0.65" opacity="0.51"/>
<circle cx="475.5" cy="443.8" r="0.91" fill="none" stroke="#dedede" stroke-width="0.65" opacity="0.45"/>
<circle cx="445.9" cy="436.6" r="1.03" fill="#a8a8a8" opacity="0.87"/>
<circle cx="476.5" cy="441.8" r="0.71" fill="#a8a8a8" opacity="0.62"/>
<circle cx="469.2" cy="434.5" r="1.15" fill="none" stroke="#bcbcbc" stroke-width="0.65" opacity="0.69"/>
<circle cx="478.9" cy="438.5" r="1.25" fill="none" stroke="#dedede" stroke-width="0.65" opacity="0.67"/>
<circle cx="463.7" cy="450.9" r="0.72" fill="#cdcdcd" opacity="0.53"/>
<circle cx="450.1" cy="436.1" r="0.86" fill="#dedede" opacity="0.62"/>
<circle cx="461.8" cy="455.1" r="1.06" fill="#bcbcbc" opacity="0.52"/>
<circle cx="473.5" cy="441.4" r="0.96" fill="#a8a8a8" opacity="0.93"/>
<circle cx="445.1" cy="435.5" r="1.09" fill="#bcbcbc" opacity="0.77"/>
<circle cx="458.6" cy="457.0" r="1.17" fill="#cdcdcd" opacity="0.79"/>
<circle cx="460.8" cy="428.9" r="1.12" fill="none" stroke="#cdcdcd" stroke-width="0.65" opacity="0.58"/>
<circle cx="457.6" cy="450.1" r="1.15" fill="#dedede" opacity="0.85"/>
<circle cx="466.9" cy="459.4" r="0.90" fill="#dedede" opacity="0.84"/>
<circle cx="474.3" cy="457.6" r="1.13" fill="none" stroke="#a8a8a8" stroke-width="0.65" opacity="0.70"/>
<circle cx="468.2" cy="458.1" r="0.85" fill="#bcbcbc" opacity="0.63"/>
<circle cx="455.7" cy="427.1" r="0.86" fill="#bcbcbc" opacity="0.54"/>
<circle cx="462.8" cy="422.8" r="0.91" fill="none" stroke="#a8a8a8" stroke-width="0.65" opacity="0.42"/>
<circle cx="458.5" cy="457.1" r="1.19" fill="none" stroke="#bcbcbc" stroke-width="0.65" opacity="0.83"/>
<circle cx="466.9" cy="429.2" r="0.70" fill="#a8a8a8" opacity="0.59"/>
<circle cx="455.4" cy="454.4" r="1.03" fill="none" stroke="#bcbcbc" stroke-width="0.65" opacity="0.74"/>
<circle cx="454.7" cy="427.8" r="1.25" fill="none" stroke="#a8a8a8" stroke-width="0.65" opacity="0.76"/>
<circle cx="463.4" cy="432.1" r="1.09" fill="none" stroke="#dedede" stroke-width="0.65" opacity="0.41"/>
<circle cx="481.9" cy="440.5" r="1.06" fill="#bcbcbc" opacity="0.87"/>
<circle cx="464.0" cy="450.8" r="1.04" fill="none" stroke="#bcbcbc" stroke-width="0.65" opacity="0.55"/>
<circle cx="472.4" cy="457.0" r="1.15" fill="none" stroke="#a8a8a8" stroke-width="0.65" opacity="0.77"/>
<circle cx="454.1" cy="432.2" r="0.88" fill="#dedede" opacity="0.71"/>
<circle cx="451.1" cy="438.1" r="1.09" fill="#bcbcbc" opacity="0.63"/>
<circle cx="462.5" cy="423.6" r="1.01" fill="#bcbcbc" opacity="0.51"/>
<circle cx="464.1" cy="428.5" r="0.88" fill="#a8a8a8" opacity="0.52"/>
<circle cx="472.1" cy="436.6" r="0.88" fill="#cdcdcd" opacity="0.80"/>
<circle cx="465.3" cy="456.8" r="0.89" fill="#a8a8a8" opacity="0.56"/>
<circle cx="453.2" cy="429.1" r="1.16" fill="none" stroke="#bcbcbc" stroke-width="0.65" opacity="0.58"/>
<circle cx="446.3" cy="435.6" r="0.89" fill="#dedede" opacity="0.78"/>
<circle cx="478.1" cy="444.1" r="1.04" fill="none" stroke="#dedede" stroke-width="0.65" opacity="0.55"/>
<circle cx="471.2" cy="433.3" r="1.13" fill="none" stroke="#dedede" stroke-width="0.65" opacity="0.47"/>
<circle cx="459.4" cy="462.4" r="0.84" fill="#cdcdcd" opacity="0.62"/>
<circle cx="470.3" cy="455.5" r="0.92" fill="none" stroke="#dedede" stroke-width="0.65" opacity="0.75"/>
<circle cx="481.1" cy="447.6" r="1.25" fill="none" stroke="#dedede" stroke-width="0.65" opacity="0.85"/>
<circle cx="470.0" cy="448.8" r="1.02" fill="none" stroke="#bcbcbc" stroke-width="0.65" opacity="0.63"/>
<circle cx="448.0" cy="445.0" r="1.04" fill="none" stroke="#dedede" stroke-width="0.65" opacity="0.81"/>
<circle cx="480.8" cy="439.6" r="0.80" fill="#bcbcbc" opacity="0.76"/>
<circle cx="454.9" cy="437.5" r="1.06" fill="#dedede" opacity="0.47"/>
<circle cx="474.8" cy="452.6" r="0.96" fill="#dedede" opacity="0.45"/>
<circle cx="453.8" cy="433.5" r="1.12" fill="#bcbcbc" opacity="0.93"/>
<circle cx="468.5" cy="433.3" r="0.84" fill="#cdcdcd" opacity="0.54"/>
<circle cx="471.9" cy="444.8" r="0.98" fill="#bcbcbc" opacity="0.63"/>
<circle cx="456.2" cy="434.3" r="1.05" fill="#a8a8a8" opacity="0.94"/>
<circle cx="445.2" cy="453.7" r="0.89" fill="#a8a8a8" opacity="0.53"/>
<circle cx="468.3" cy="423.8" r="1.10" fill="none" stroke="#bcbcbc" stroke-width="0.65" opacity="0.84"/>
<circle cx="479.9" cy="441.0" r="0.74" fill="#cdcdcd" opacity="0.76"/>
<circle cx="453.4" cy="447.4" r="0.92" fill="#a8a8a8" opacity="0.78"/>
<circle cx="447.2" cy="444.4" r="1.00" fill="#dedede" opacity="0.95"/>
<circle cx="461.2" cy="430.2" r="0.93" fill="none" stroke="#dedede" stroke-width="0.65" opacity="0.84"/>
<circle cx="467.5" cy="431.1" r="0.97" fill="#bcbcbc" opacity="0.56"/>
<circle cx="474.4" cy="434.0" r="0.87" fill="#dedede" opacity="0.74"/>
<circle cx="478.1" cy="449.0" r="0.96" fill="#a8a8a8" opacity="0.86"/>
<circle cx="466.4" cy="432.7" r="1.28" fill="none" stroke="#dedede" stroke-width="0.65" opacity="0.79"/>
<circle cx="453.6" cy="458.2" r="1.11" fill="#a8a8a8" opacity="0.51"/>
<circle cx="469.7" cy="447.9" r="0.96" fill="#a8a8a8" opacity="0.60"/>
<circle cx="457.7" cy="456.7" r="0.92" fill="#dedede" opacity="0.69"/>
<circle cx="473.3" cy="457.5" r="1.11" fill="none" stroke="#cdcdcd" stroke-width="0.65" opacity="0.51"/>
<circle cx="452.3" cy="450.4" r="0.70" fill="#bcbcbc" opacity="0.58"/>
<circle cx="447.2" cy="438.0" r="1.01" fill="none" stroke="#a8a8a8" stroke-width="0.65" opacity="0.60"/>
<circle cx="474.5" cy="449.8" r="1.10" fill="#cdcdcd" opacity="0.76"/>
<circle cx="450.8" cy="446.0" r="1.20" fill="none" stroke="#a8a8a8" stroke-width="0.65" opacity="0.84"/>
<circle cx="461.1" cy="456.1" r="1.13" fill="none" stroke="#cdcdcd" stroke-width="0.65" opacity="0.82"/>
<circle cx="458.7" cy="430.0" r="0.98" fill="none" stroke="#a8a8a8" stroke-width="0.65" opacity="0.79"/>
<circle cx="454.0" cy="447.9" r="1.15" fill="#dedede" opacity="0.83"/>
<circle cx="452.4" cy="444.2" r="0.92" fill="#dedede" opacity="0.95"/>
<circle cx="453.9" cy="447.6" r="1.11" fill="#cdcdcd" opacity="0.79"/>
<circle cx="478.3" cy="446.2" r="1.08" fill="#a8a8a8" opacity="0.83"/>
<circle cx="470.2" cy="446.3" r="0.94" fill="none" stroke="#bcbcbc" stroke-width="0.65" opacity="0.74"/>
<circle cx="456.0" cy="430.0" r="0.73" fill="#a8a8a8" opacity="0.80"/>
<circle cx="475.9" cy="441.8" r="0.77" fill="#bcbcbc" opacity="0.62"/>
<circle cx="474.6" cy="441.1" r="0.74" fill="#a8a8a8" opacity="0.64"/>
<circle cx="449.2" cy="451.4" r="0.85" fill="#dedede" opacity="0.57"/>
<circle cx="448.9" cy="438.8" r="0.92" fill="none" stroke="#a8a8a8" stroke-width="0.65" opacity="0.64"/>
<circle cx="448.5" cy="442.9" r="1.22" fill="none" stroke="#cdcdcd" stroke-width="0.65" opacity="0.49"/>
<circle cx="480.8" cy="448.2" r="0.93" fill="none" stroke="#a8a8a8" stroke-width="0.65" opacity="0.83"/>
<circle cx="464.8" cy="457.4" r="1.18" fill="none" stroke="#dedede" stroke-width="0.65" opacity="0.76"/>
<circle cx="476.1" cy="435.9" r="0.98" fill="none" stroke="#dedede" stroke-width="0.65" opacity="0.48"/>
<circle cx="472.8" cy="454.5" r="0.95" fill="#bcbcbc" opacity="0.46"/>
<circle cx="471.3" cy="457.5" r="1.04" fill="#cdcdcd" opacity="0.60"/>
<circle cx="469.4" cy="451.7" r="0.93" fill="#cdcdcd" opacity="0.55"/>
<circle cx="463.1" cy="450.4" r="0.92" fill="#a8a8a8" opacity="0.66"/>
<circle cx="476.1" cy="457.5" r="0.85" fill="#cdcdcd" opacity="0.57"/>
<circle cx="447.8" cy="436.6" r="1.00" fill="none" stroke="#cdcdcd" stroke-width="0.65" opacity="0.65"/>
<circle cx="455.1" cy="431.1" r="0.91" fill="none" stroke="#cdcdcd" stroke-width="0.65" opacity="0.57"/>
<circle cx="447.1" cy="437.8" r="0.96" fill="none" stroke="#bcbcbc" stroke-width="0.65" opacity="0.48"/>
<circle cx="473.9" cy="444.9" r="1.27" fill="none" stroke="#a8a8a8" stroke-width="0.65" opacity="0.85"/>
<circle cx="456.6" cy="460.9" r="1.21" fill="none" stroke="#a8a8a8" stroke-width="0.65" opacity="0.80"/>
<circle cx="458.3" cy="459.2" r="0.97" fill="#a8a8a8" opacity="0.49"/>
<circle cx="469.5" cy="436.0" r="0.85" fill="#cdcdcd" opacity="0.74"/>
<circle cx="464.7" cy="450.0" r="0.73" fill="#cdcdcd" opacity="0.62"/>
<circle cx="461.1" cy="429.2" r="1.23" fill="none" stroke="#cdcdcd" stroke-width="0.65" opacity="0.76"/>
<circle cx="461.4" cy="425.2" r="1.00" fill="#bcbcbc" opacity="0.68"/>
<circle cx="469.4" cy="447.3" r="1.12" fill="#cdcdcd" opacity="0.49"/>
<circle cx="449.8" cy="456.0" r="1.24" fill="none" stroke="#bcbcbc" stroke-width="0.65" opacity="0.79"/>
<circle cx="472.6" cy="449.1" r="1.10" fill="none" stroke="#cdcdcd" stroke-width="0.65" opacity="0.64"/>
<circle cx="467.0" cy="450.6" r="0.88" fill="#bcbcbc" opacity="0.55"/>
<circle cx="470.5" cy="450.7" r="0.97" fill="#cdcdcd" opacity="0.57"/>
<circle cx="470.2" cy="444.9" r="0.81" fill="#cdcdcd" opacity="0.83"/>
<circle cx="471.6" cy="443.9" r="0.75" fill="#dedede" opacity="0.73"/>
<circle cx="462.5" cy="445.9" r="0.85" fill="#ececec" opacity="0.88"/>
<circle cx="461.9" cy="449.9" r="0.72" fill="#b4b4b4" opacity="0.50"/>
<circle cx="464.3" cy="446.9" r="0.72" fill="#c6c6c6" opacity="0.90"/>
<circle cx="470.4" cy="442.6" r="0.94" fill="#f8f8f8" opacity="0.47"/>
<circle cx="452.9" cy="441.4" r="0.63" fill="#ececec" opacity="0.64"/>
<circle cx="462.4" cy="445.6" r="0.90" fill="#c6c6c6" opacity="0.49"/>
<circle cx="462.4" cy="442.2" r="0.94" fill="#b4b4b4" opacity="0.95"/>
<circle cx="464.9" cy="451.4" r="0.97" fill="#dadada" opacity="0.88"/>
<circle cx="459.5" cy="444.9" r="0.95" fill="#ececec" opacity="0.72"/>
<circle cx="461.1" cy="451.6" r="1.00" fill="#c6c6c6" opacity="0.86"/>
<circle cx="452.1" cy="436.1" r="0.74" fill="#f8f8f8" opacity="0.80"/>
<circle cx="461.6" cy="431.3" r="0.82" fill="#b4b4b4" opacity="0.97"/>
<circle cx="462.7" cy="437.8" r="0.93" fill="#c6c6c6" opacity="0.92"/>
<circle cx="456.4" cy="439.9" r="0.84" fill="#f8f8f8" opacity="0.96"/>
<circle cx="457.0" cy="434.5" r="0.95" fill="#f8f8f8" opacity="0.83"/>
<circle cx="451.6" cy="448.6" r="0.66" fill="#dadada" opacity="0.82"/>
<circle cx="470.4" cy="436.2" r="0.95" fill="#f8f8f8" opacity="0.45"/>
<circle cx="466.8" cy="446.1" r="0.76" fill="#f8f8f8" opacity="0.78"/>
<circle cx="463.3" cy="448.8" r="0.75" fill="#c6c6c6" opacity="0.71"/>
<circle cx="463.6" cy="441.9" r="0.90" fill="#ececec" opacity="0.69"/>
<circle cx="469.1" cy="448.8" r="0.74" fill="#dadada" opacity="0.94"/>
<circle cx="465.6" cy="447.3" r="0.66" fill="#ececec" opacity="0.94"/>
<circle cx="453.8" cy="448.0" r="0.71" fill="#f8f8f8" opacity="0.93"/>
<circle cx="468.2" cy="434.1" r="0.75" fill="#ececec" opacity="0.45"/>
<circle cx="461.9" cy="450.8" r="0.95" fill="#b4b4b4" opacity="0.59"/>
<circle cx="456.2" cy="440.2" r="0.88" fill="#b4b4b4" opacity="0.52"/>
<circle cx="453.9" cy="446.4" r="0.86" fill="#b4b4b4" opacity="0.69"/>
<circle cx="456.1" cy="433.3" r="1.02" fill="#f8f8f8" opacity="0.89"/>
<circle cx="458.8" cy="442.1" r="0.58" fill="#dadada" opacity="0.91"/>
<circle cx="452.7" cy="445.0" r="1.00" fill="#b4b4b4" opacity="0.85"/>
<circle cx="457.9" cy="449.2" r="0.55" fill="#ececec" opacity="0.97"/>
<circle cx="466.3" cy="439.5" r="0.57" fill="#b4b4b4" opacity="0.67"/>
<circle cx="459.7" cy="451.8" r="0.70" fill="#ececec" opacity="0.75"/>
<circle cx="456.6" cy="435.4" r="0.80" fill="#f8f8f8" opacity="0.99"/>
<circle cx="458.2" cy="448.7" r="0.80" fill="#b4b4b4" opacity="0.48"/>
<circle cx="464.5" cy="450.6" r="0.63" fill="#dadada" opacity="0.86"/>
<circle cx="465.8" cy="443.4" r="1.04" fill="#c6c6c6" opacity="0.88"/>
<circle cx="460.7" cy="448.9" r="0.65" fill="#f8f8f8" opacity="0.63"/>
<circle cx="461.3" cy="448.3" r="0.71" fill="#f8f8f8" opacity="0.89"/>
<circle cx="467.7" cy="439.0" r="0.78" fill="#b4b4b4" opacity="0.91"/>
<circle cx="457.8" cy="450.8" r="0.69" fill="#ececec" opacity="0.74"/>
<circle cx="453.0" cy="447.2" r="0.69" fill="#dadada" opacity="0.65"/>
<circle cx="459.1" cy="452.3" r="0.68" fill="#dadada" opacity="0.87"/>
<circle cx="459.4" cy="441.0" r="0.85" fill="#c6c6c6" opacity="0.65"/>
<circle cx="470.7" cy="433.4" r="0.93" fill="#dadada" opacity="0.82"/>
<circle cx="467.8" cy="447.0" r="0.63" fill="#c6c6c6" opacity="0.55"/>
<circle cx="469.4" cy="448.8" r="0.75" fill="#f8f8f8" opacity="0.97"/>
<circle cx="454.5" cy="447.6" r="0.72" fill="#c6c6c6" opacity="0.55"/>
<circle cx="451.1" cy="440.6" r="0.62" fill="#c6c6c6" opacity="0.64"/>
<circle cx="458.9" cy="442.0" r="0.88" fill="#b4b4b4" opacity="0.77"/>
<circle cx="460.6" cy="449.1" r="0.63" fill="#ececec" opacity="0.82"/>
<circle cx="469.6" cy="436.3" r="0.92" fill="#dadada" opacity="0.90"/>
<circle cx="468.7" cy="449.3" r="0.86" fill="#f8f8f8" opacity="0.60"/>
<circle cx="463.1" cy="439.4" r="0.85" fill="#c6c6c6" opacity="0.95"/>
<circle cx="456.3" cy="439.6" r="0.73" fill="#dadada" opacity="0.83"/>
<circle cx="460.2" cy="444.9" r="0.78" fill="#dadada" opacity="0.87"/>
<circle cx="469.2" cy="441.0" r="0.83" fill="#b4b4b4" opacity="0.89"/>
<circle cx="463.6" cy="443.6" r="0.70" fill="#ececec" opacity="0.96"/>
<circle cx="463.1" cy="452.8" r="0.95" fill="#b4b4b4" opacity="0.56"/>
<circle cx="450.6" cy="439.4" r="0.66" fill="#dadada" opacity="0.55"/>
<circle cx="455.1" cy="448.5" r="0.91" fill="#c6c6c6" opacity="0.77"/>
<circle cx="455.6" cy="438.3" r="0.88" fill="#ececec" opacity="0.93"/>
<circle cx="459.2" cy="441.5" r="0.59" fill="#c6c6c6" opacity="0.71"/>
<circle cx="460.0" cy="438.4" r="0.78" fill="#b4b4b4" opacity="0.64"/>
<circle cx="460.7" cy="446.5" r="0.59" fill="#ececec" opacity="0.94"/>
<circle cx="462.1" cy="440.5" r="0.94" fill="#ececec" opacity="0.56"/>
<circle cx="458.6" cy="452.2" r="1.01" fill="#dadada" opacity="0.85"/>
<circle cx="464.0" cy="449.6" r="0.97" fill="#dadada" opacity="0.80"/>
<circle cx="452.4" cy="438.6" r="0.83" fill="#ececec" opacity="0.62"/>
<circle cx="461.3" cy="436.3" r="0.76" fill="#c6c6c6" opacity="0.47"/>
<circle cx="456.0" cy="450.4" r="0.73" fill="#ececec" opacity="0.94"/>
<circle cx="458.1" cy="447.6" r="0.79" fill="#c6c6c6" opacity="0.90"/>
<circle cx="458.5" cy="440.7" r="0.74" fill="#b4b4b4" opacity="0.64"/>
<circle cx="465.4" cy="451.5" r="1.02" fill="#c6c6c6" opacity="0.99"/>
<circle cx="455.7" cy="447.2" r="0.62" fill="#f8f8f8" opacity="0.46"/>
<circle cx="457.8" cy="445.6" r="0.96" fill="#dadada" opacity="0.99"/>
<circle cx="462.7" cy="445.4" r="0.82" fill="#b4b4b4" opacity="0.49"/>
<circle cx="466.7" cy="437.7" r="0.93" fill="#f8f8f8" opacity="0.95"/>
<circle cx="461.2" cy="442.7" r="0.60" fill="#dadada" opacity="0.93"/>
<circle cx="452.0" cy="437.4" r="0.93" fill="#f8f8f8" opacity="0.76"/>
<circle cx="466.9" cy="451.1" r="0.91" fill="#ececec" opacity="0.71"/>
<circle cx="469.8" cy="449.2" r="0.85" fill="#f8f8f8" opacity="0.48"/>
<circle cx="462.6" cy="448.2" r="0.83" fill="#f8f8f8" opacity="0.86"/>
<circle cx="458.2" cy="437.5" r="0.60" fill="#ececec" opacity="0.99"/>
<circle cx="469.9" cy="444.5" r="1.02" fill="#ececec" opacity="0.98"/>
<circle cx="453.8" cy="439.2" r="1.01" fill="#b4b4b4" opacity="0.59"/>
<circle cx="461.9" cy="438.4" r="0.93" fill="#dadada" opacity="0.94"/>
<circle cx="458.7" cy="441.5" r="0.81" fill="#b4b4b4" opacity="0.51"/>
<circle cx="471.5" cy="436.5" r="0.59" fill="#dadada" opacity="0.47"/>
<circle cx="454.4" cy="439.1" r="0.85" fill="#b4b4b4" opacity="0.89"/>
<circle cx="459.1" cy="441.3" r="0.78" fill="#c6c6c6" opacity="0.82"/>
<circle cx="464.6" cy="448.9" r="0.96" fill="#b4b4b4" opacity="0.70"/>
<circle cx="462.8" cy="445.9" r="1.04" fill="#f8f8f8" opacity="0.79"/>
<circle cx="460.2" cy="439.1" r="0.92" fill="#dadada" opacity="0.92"/>
<circle cx="455.6" cy="448.5" r="0.70" fill="#c6c6c6" opacity="0.61"/>
<circle cx="457.6" cy="448.8" r="0.55" fill="#ececec" opacity="0.49"/>
<circle cx="458.4" cy="439.7" r="0.74" fill="#b4b4b4" opacity="0.99"/>
<circle cx="464.4" cy="452.5" r="1.01" fill="#dadada" opacity="0.91"/>
<circle cx="458.3" cy="434.9" r="0.95" fill="#f8f8f8" opacity="0.48"/>
<circle cx="461.4" cy="450.0" r="0.68" fill="#ececec" opacity="0.62"/>
<circle cx="466.9" cy="445.4" r="0.63" fill="#f8f8f8" opacity="0.97"/>
<circle cx="455.2" cy="435.8" r="0.69" fill="#c6c6c6" opacity="0.59"/>
<circle cx="462.4" cy="447.9" r="1.01" fill="#c6c6c6" opacity="0.63"/>
<circle cx="470.0" cy="435.3" r="0.82" fill="#dadada" opacity="0.51"/>
<circle cx="455.0" cy="435.3" r="0.58" fill="#c6c6c6" opacity="0.52"/>
<circle cx="468.2" cy="444.2" r="0.67" fill="#b4b4b4" opacity="0.95"/>
<circle cx="463.5" cy="431.5" r="0.87" fill="#dadada" opacity="0.57"/>
<circle cx="459.2" cy="431.5" r="0.91" fill="#f8f8f8" opacity="0.99"/>
<circle cx="459.9" cy="437.8" r="0.93" fill="#c6c6c6" opacity="0.59"/>
<circle cx="460.0" cy="437.6" r="0.87" fill="#ececec" opacity="0.79"/>
<circle cx="467.9" cy="449.5" r="0.85" fill="#dadada" opacity="0.83"/>
<circle cx="466.6" cy="444.1" r="0.59" fill="#dadada" opacity="0.49"/>
<circle cx="456.3" cy="434.9" r="0.89" fill="#b4b4b4" opacity="0.60"/>
<circle cx="468.9" cy="447.1" r="0.75" fill="#c6c6c6" opacity="0.83"/>
<circle cx="465.6" cy="438.3" r="0.72" fill="#f8f8f8" opacity="0.91"/>
<circle cx="462.0" cy="444.1" r="0.95" fill="#ececec" opacity="0.82"/>
<circle cx="463.5" cy="446.5" r="0.63" fill="#dadada" opacity="0.81"/>
<circle cx="465.6" cy="450.0" r="0.79" fill="#ececec" opacity="0.91"/>
<circle cx="463.8" cy="443.3" r="0.66" fill="#b4b4b4" opacity="0.49"/>
<circle cx="462.8" cy="443.1" r="0.73" fill="#c6c6c6" opacity="0.85"/>
<circle cx="461.7" cy="446.5" r="0.63" fill="#c6c6c6" opacity="0.81"/>
<circle cx="467.8" cy="452.1" r="1.02" fill="#f8f8f8" opacity="0.47"/>
<circle cx="462.5" cy="432.0" r="0.67" fill="#c6c6c6" opacity="0.94"/>
<circle cx="465.6" cy="444.8" r="0.97" fill="#f8f8f8" opacity="0.58"/>
<circle cx="463.1" cy="443.2" r="0.83" fill="#f8f8f8" opacity="0.72"/>
<circle cx="468.0" cy="438.8" r="0.76" fill="#ececec" opacity="0.48"/>
<circle cx="457.4" cy="443.5" r="1.02" fill="#ececec" opacity="0.76"/>
<circle cx="461.6" cy="439.3" r="0.86" fill="#b4b4b4" opacity="1.00"/>
<circle cx="471.4" cy="445.7" r="0.81" fill="#f8f8f8" opacity="0.58"/>
<circle cx="462.9" cy="446.9" r="0.79" fill="#dadada" opacity="0.71"/>
<circle cx="469.9" cy="450.6" r="0.87" fill="#f8f8f8" opacity="0.50"/>
<circle cx="467.7" cy="444.6" r="0.79" fill="#f8f8f8" opacity="0.55"/>
<circle cx="460.5" cy="441.9" r="0.87" fill="#dadada" opacity="0.83"/>
<circle cx="462.0" cy="440.0" r="0.62" fill="#b4b4b4" opacity="0.65"/>
<circle cx="458.2" cy="448.9" r="0.98" fill="#dadada" opacity="0.65"/>
<circle cx="463.1" cy="451.2" r="0.78" fill="#b4b4b4" opacity="0.85"/>
<circle cx="459.8" cy="450.0" r="0.97" fill="#ececec" opacity="0.62"/>
<circle cx="466.9" cy="444.2" r="0.89" fill="#dadada" opacity="0.46"/>
<circle cx="451.8" cy="443.4" r="0.98" fill="#b4b4b4" opacity="0.86"/>
<circle cx="468.7" cy="437.5" r="0.97" fill="#ececec" opacity="0.56"/>
<circle cx="463.4" cy="452.7" r="0.57" fill="#c6c6c6" opacity="0.55"/>
<circle cx="454.6" cy="438.8" r="0.67" fill="#ececec" opacity="0.91"/>
<circle cx="457.9" cy="439.0" r="0.83" fill="#f8f8f8" opacity="0.84"/>
<circle cx="464.5" cy="444.6" r="0.62" fill="#f8f8f8" opacity="0.53"/>
<circle cx="468.0" cy="436.7" r="0.63" fill="#dadada" opacity="0.68"/>
<circle cx="462.6" cy="438.7" r="0.99" fill="#c6c6c6" opacity="0.81"/>
<circle cx="460.3" cy="453.7" r="0.60" fill="#f8f8f8" opacity="0.69"/>
<circle cx="471.4" cy="435.5" r="0.69" fill="#dadada" opacity="0.98"/>
<circle cx="451.6" cy="440.2" r="0.95" fill="#c6c6c6" opacity="0.81"/>
<circle cx="462.0" cy="448.9" r="0.84" fill="#b4b4b4" opacity="0.89"/>
<circle cx="466.1" cy="453.2" r="0.85" fill="#dadada" opacity="0.59"/>
<circle cx="469.2" cy="440.0" r="0.76" fill="#ececec" opacity="0.98"/>
<circle cx="459.8" cy="436.1" r="0.86" fill="#dadada" opacity="0.71"/>
<circle cx="471.9" cy="442.6" r="0.72" fill="#f8f8f8" opacity="0.87"/>
<circle cx="449.5" cy="444.6" r="0.94" fill="#c6c6c6" opacity="0.58"/>
<circle cx="464.0" cy="450.0" r="0.75" fill="#f8f8f8" opacity="0.52"/>
<circle cx="459.3" cy="433.2" r="0.88" fill="#f8f8f8" opacity="0.87"/>
<circle cx="462.5" cy="445.5" r="0.61" fill="#c6c6c6" opacity="0.73"/>
<circle cx="455.0" cy="433.5" r="0.84" fill="#f8f8f8" opacity="0.97"/>
<circle cx="459.4" cy="434.4" r="0.71" fill="#f8f8f8" opacity="0.90"/>
<circle cx="463.6" cy="432.5" r="0.73" fill="#f8f8f8" opacity="0.98"/>
<circle cx="454.8" cy="433.7" r="0.90" fill="#ececec" opacity="0.98"/>
<circle cx="460.0" cy="447.0" r="0.63" fill="#c6c6c6" opacity="0.49"/>
<circle cx="462.5" cy="434.2" r="0.65" fill="#dadada" opacity="0.46"/>
<circle cx="460.5" cy="450.5" r="0.95" fill="#dadada" opacity="0.91"/>
<circle cx="463.1" cy="444.6" r="0.68" fill="#ececec" opacity="0.84"/>
<circle cx="468.8" cy="448.0" r="1.03" fill="#dadada" opacity="0.53"/>
<circle cx="458.9" cy="447.8" r="0.92" fill="#f8f8f8" opacity="0.93"/>
<circle cx="461.0" cy="449.2" r="0.60" fill="#c6c6c6" opacity="0.79"/>
<circle cx="464.0" cy="433.8" r="0.72" fill="#c6c6c6" opacity="0.72"/>
<circle cx="456.5" cy="440.0" r="0.93" fill="#dadada" opacity="0.91"/>
<circle cx="468.5" cy="442.7" r="0.95" fill="#c6c6c6" opacity="0.89"/>
<circle cx="463.0" cy="445.2" r="0.95" fill="#f8f8f8" opacity="0.89"/>
<circle cx="459.3" cy="438.1" r="0.77" fill="#b4b4b4" opacity="0.46"/>
<circle cx="467.0" cy="433.9" r="0.67" fill="#f8f8f8" opacity="0.59"/>
<circle cx="460.5" cy="434.9" r="0.66" fill="#dadada" opacity="0.46"/>
<circle cx="460.2" cy="435.0" r="0.86" fill="#f8f8f8" opacity="0.95"/>
<circle cx="459.2" cy="438.0" r="0.62" fill="#c6c6c6" opacity="0.48"/>
<circle cx="459.6" cy="435.2" r="0.75" fill="#c6c6c6" opacity="0.74"/>
<circle cx="459.0" cy="448.1" r="0.57" fill="#c6c6c6" opacity="0.73"/>
<circle cx="465.3" cy="438.6" r="0.57" fill="#f8f8f8" opacity="0.63"/>
<circle cx="469.1" cy="434.4" r="0.81" fill="#f8f8f8" opacity="0.88"/>
<circle cx="459.3" cy="444.0" r="0.58" fill="#f8f8f8" opacity="0.89"/>
<circle cx="466.5" cy="435.8" r="0.94" fill="#f8f8f8" opacity="0.65"/>
<circle cx="469.6" cy="438.6" r="0.58" fill="#b4b4b4" opacity="0.87"/>
<circle cx="464.3" cy="444.8" r="0.61" fill="#b4b4b4" opacity="0.71"/>
<circle cx="469.2" cy="445.4" r="0.77" fill="#c6c6c6" opacity="0.50"/>
<circle cx="467.7" cy="440.6" r="0.57" fill="#dadada" opacity="0.95"/>
<circle cx="458.8" cy="433.4" r="0.63" fill="#c6c6c6" opacity="0.74"/>
<circle cx="465.9" cy="449.9" r="0.90" fill="#f8f8f8" opacity="0.65"/>
<circle cx="451.7" cy="438.7" r="0.68" fill="#dadada" opacity="0.86"/>
<circle cx="449.8" cy="444.0" r="0.85" fill="#ececec" opacity="0.61"/>
<circle cx="460.9" cy="434.0" r="0.92" fill="#ececec" opacity="0.95"/>
<circle cx="452.8" cy="441.3" r="0.56" fill="#ececec" opacity="0.73"/>
<circle cx="472.4" cy="440.4" r="0.71" fill="#b4b4b4" opacity="0.55"/>
<circle cx="465.2" cy="450.3" r="0.58" fill="#f8f8f8" opacity="0.45"/>
<circle cx="462.9" cy="437.1" r="0.85" fill="#c6c6c6" opacity="0.94"/>
<circle cx="467.7" cy="433.8" r="1.02" fill="#c6c6c6" opacity="0.62"/>
<circle cx="459.9" cy="450.1" r="0.56" fill="#ececec" opacity="0.82"/>
<circle cx="451.9" cy="437.7" r="0.96" fill="#ececec" opacity="0.80"/>
<circle cx="463.1" cy="444.5" r="0.96" fill="#ececec" opacity="0.59"/>
<circle cx="466.4" cy="434.8" r="0.67" fill="#ececec" opacity="0.84"/>
<circle cx="468.0" cy="437.3" r="0.97" fill="#ececec" opacity="0.93"/>
<circle cx="461.5" cy="437.3" r="0.88" fill="#b4b4b4" opacity="0.48"/>
<circle cx="451.4" cy="444.9" r="0.79" fill="#c6c6c6" opacity="0.70"/>
<circle cx="460.3" cy="431.5" r="0.67" fill="#c6c6c6" opacity="0.51"/>
<circle cx="463.3" cy="436.9" r="0.74" fill="#ececec" opacity="0.79"/>
<circle cx="466.0" cy="436.9" r="0.71" fill="#f8f8f8" opacity="0.71"/>
<circle cx="467.2" cy="437.4" r="0.79" fill="#b4b4b4" opacity="0.94"/>
<circle cx="468.1" cy="435.7" r="1.01" fill="#b4b4b4" opacity="0.78"/>
<circle cx="473.3" cy="447.2" r="0.76" fill="#f8f8f8" opacity="0.93"/>
<circle cx="456.3" cy="448.2" r="1.01" fill="#c6c6c6" opacity="0.81"/>
<circle cx="451.7" cy="437.5" r="0.85" fill="#f8f8f8" opacity="0.69"/>
<circle cx="469.5" cy="447.0" r="0.70" fill="#b4b4b4" opacity="0.73"/>
<circle cx="464.0" cy="434.1" r="0.95" fill="#b4b4b4" opacity="0.57"/>
<circle cx="450.4" cy="446.9" r="0.87" fill="#f8f8f8" opacity="0.49"/>
<circle cx="468.6" cy="441.6" r="0.92" fill="#b4b4b4" opacity="0.55"/>
<circle cx="457.6" cy="434.9" r="0.85" fill="#ececec" opacity="0.66"/>
<circle cx="467.7" cy="451.7" r="1.01" fill="#dadada" opacity="0.75"/>
<circle cx="454.6" cy="450.2" r="0.65" fill="#dadada" opacity="0.46"/>
<circle cx="469.1" cy="436.8" r="0.81" fill="#ececec" opacity="0.96"/>
<circle cx="456.6" cy="436.7" r="0.76" fill="#dadada" opacity="0.78"/>
<circle cx="457.0" cy="444.5" r="0.86" fill="#b4b4b4" opacity="0.48"/>
<circle cx="470.7" cy="435.9" r="0.92" fill="#ececec" opacity="0.58"/>
<circle cx="464.3" cy="447.0" r="0.64" fill="#b4b4b4" opacity="0.93"/>
<circle cx="471.0" cy="449.4" r="0.91" fill="#f8f8f8" opacity="0.84"/>
<circle cx="467.6" cy="439.1" r="0.79" fill="#dadada" opacity="0.45"/>
<circle cx="471.2" cy="435.1" r="0.89" fill="#b4b4b4" opacity="0.53"/>
<circle cx="469.7" cy="441.9" r="0.75" fill="#c6c6c6" opacity="0.85"/>
<circle cx="468.7" cy="434.7" r="0.86" fill="#c6c6c6" opacity="0.62"/>
<circle cx="465.2" cy="444.0" r="0.84" fill="#ececec" opacity="0.52"/>
<circle cx="464.9" cy="437.1" r="0.79" fill="#b4b4b4" opacity="0.97"/>
<circle cx="455.9" cy="438.3" r="0.80" fill="#ececec" opacity="0.58"/>
<circle cx="467.5" cy="444.7" r="0.73" fill="#dadada" opacity="0.68"/>
<circle cx="456.1" cy="446.4" r="0.78" fill="#ececec" opacity="0.91"/>
<circle cx="463.2" cy="435.3" r="0.73" fill="#f8f8f8" opacity="0.80"/>
<circle cx="452.1" cy="446.2" r="0.63" fill="#c6c6c6" opacity="0.81"/>
<circle cx="458.5" cy="434.7" r="0.89" fill="#c6c6c6" opacity="0.67"/>
<circle cx="463.0" cy="448.3" r="0.82" fill="#ececec" opacity="0.67"/>
<circle cx="465.1" cy="439.5" r="0.86" fill="#dadada" opacity="0.89"/>
<circle cx="454.8" cy="441.1" r="0.72" fill="#dadada" opacity="0.74"/>
<circle cx="450.4" cy="443.6" r="0.68" fill="#c6c6c6" opacity="0.79"/>
<circle cx="471.2" cy="443.0" r="0.58" fill="#f8f8f8" opacity="0.90"/>
<circle cx="467.5" cy="437.4" r="0.96" fill="#c6c6c6" opacity="0.54"/>
<circle cx="464.5" cy="449.2" r="0.92" fill="#dadada" opacity="0.53"/>
<circle cx="456.4" cy="444.2" r="0.92" fill="#dadada" opacity="0.85"/>
<circle cx="449.9" cy="438.2" r="0.94" fill="#dadada" opacity="0.53"/>
<circle cx="452.9" cy="442.2" r="0.76" fill="#f8f8f8" opacity="0.80"/>
<circle cx="467.7" cy="447.9" r="0.57" fill="#c6c6c6" opacity="0.48"/>
<circle cx="460.8" cy="438.9" r="0.61" fill="#ececec" opacity="0.54"/>
<circle cx="459.4" cy="437.7" r="0.73" fill="#ececec" opacity="0.99"/>
<circle cx="461.6" cy="449.0" r="0.79" fill="#ececec" opacity="0.46"/>
<circle cx="467.0" cy="450.8" r="0.95" fill="#ececec" opacity="0.79"/>
<circle cx="455.2" cy="435.9" r="0.94" fill="#dadada" opacity="0.75"/>
<circle cx="453.4" cy="445.2" r="0.85" fill="#dadada" opacity="0.64"/>
<circle cx="466.9" cy="435.9" r="0.81" fill="#b4b4b4" opacity="0.72"/>
<circle cx="456.7" cy="435.6" r="0.95" fill="#b4b4b4" opacity="0.88"/>
<circle cx="463.7" cy="435.7" r="0.90" fill="#f8f8f8" opacity="0.55"/>
<circle cx="458.0" cy="448.2" r="1.03" fill="#f8f8f8" opacity="0.96"/>
<circle cx="455.8" cy="447.7" r="1.05" fill="#c6c6c6" opacity="0.57"/>
<circle cx="471.3" cy="442.2" r="0.89" fill="#b4b4b4" opacity="0.63"/>
<circle cx="454.7" cy="436.4" r="0.84" fill="#ececec" opacity="0.75"/>
<circle cx="474.0" cy="441.2" r="1.02" fill="#f8f8f8" opacity="0.87"/>
<circle cx="457.4" cy="440.0" r="0.84" fill="#c6c6c6" opacity="0.69"/>
<circle cx="463.3" cy="433.0" r="0.74" fill="#dadada" opacity="0.93"/>
<circle cx="468.1" cy="436.4" r="0.59" fill="#c6c6c6" opacity="0.70"/>
<circle cx="464.6" cy="437.1" r="0.66" fill="#c6c6c6" opacity="0.81"/>
<circle cx="466.7" cy="439.3" r="1.05" fill="#b4b4b4" opacity="0.68"/>
<circle cx="462.2" cy="432.9" r="0.87" fill="#f8f8f8" opacity="0.62"/>
<circle cx="471.3" cy="439.5" r="0.92" fill="#dadada" opacity="0.53"/>
<circle cx="469.6" cy="441.4" r="0.92" fill="#b4b4b4" opacity="0.97"/>
<circle cx="466.4" cy="436.3" r="0.96" fill="#c6c6c6" opacity="0.47"/>
<circle cx="465.7" cy="436.7" r="0.66" fill="#dadada" opacity="0.78"/>
<circle cx="459.4" cy="450.5" r="0.64" fill="#b4b4b4" opacity="0.53"/>
<circle cx="465.2" cy="450.0" r="0.68" fill="#b4b4b4" opacity="0.54"/>
<circle cx="467.8" cy="434.6" r="0.68" fill="#ececec" opacity="0.95"/>
<circle cx="457.1" cy="438.2" r="0.87" fill="#dadada" opacity="0.74"/>
<circle cx="470.1" cy="447.8" r="0.95" fill="#f8f8f8" opacity="0.83"/>
<circle cx="453.0" cy="444.0" r="1.03" fill="#b4b4b4" opacity="0.96"/>
<circle cx="457.2" cy="440.4" r="0.99" fill="#f8f8f8" opacity="0.95"/>
<circle cx="471.4" cy="437.8" r="0.73" fill="#b4b4b4" opacity="0.75"/>
<circle cx="467.0" cy="450.4" r="0.73" fill="#dadada" opacity="0.98"/>
<circle cx="453.1" cy="437.3" r="0.74" fill="#c6c6c6" opacity="0.75"/>
<circle cx="463.2" cy="447.0" r="1.03" fill="#dadada" opacity="0.70"/>
<circle cx="468.7" cy="439.2" r="0.79" fill="#c6c6c6" opacity="0.96"/>
<circle cx="458.7" cy="437.2" r="0.73" fill="#ececec" opacity="0.78"/>
<circle cx="462.0" cy="449.0" r="0.58" fill="#b4b4b4" opacity="0.46"/>
<circle cx="454.1" cy="441.7" r="0.93" fill="#dadada" opacity="0.58"/>
<circle cx="464.5" cy="444.0" r="0.89" fill="#ececec" opacity="0.84"/>
<circle cx="461.3" cy="442.2" r="0.71" fill="#c6c6c6" opacity="0.76"/>
<circle cx="462.5" cy="441.4" r="0.82" fill="#b4b4b4" opacity="0.55"/>
<circle cx="470.0" cy="436.6" r="0.60" fill="#ececec" opacity="0.96"/>
<circle cx="455.1" cy="441.4" r="0.89" fill="#c6c6c6" opacity="0.66"/>
<circle cx="453.9" cy="436.7" r="0.61" fill="#f8f8f8" opacity="0.86"/>
<circle cx="458.3" cy="445.8" r="1.03" fill="#dadada" opacity="1.00"/>
<circle cx="455.0" cy="432.6" r="0.74" fill="#ececec" opacity="0.65"/>
<circle cx="458.5" cy="445.3" r="0.62" fill="#b4b4b4" opacity="0.54"/>
<circle cx="463.1" cy="437.9" r="0.70" fill="#ececec" opacity="0.76"/>
<circle cx="458.3" cy="442.8" r="0.91" fill="#dadada" opacity="0.58"/>
<circle cx="466.5" cy="442.2" r="0.67" fill="#c6c6c6" opacity="0.50"/>
<circle cx="457.9" cy="448.3" r="0.66" fill="#dadada" opacity="0.82"/>
<circle cx="451.5" cy="441.8" r="0.85" fill="#dadada" opacity="0.55"/>
<circle cx="460.4" cy="444.2" r="0.72" fill="#dadada" opacity="0.49"/>
<circle cx="463.2" cy="434.0" r="0.67" fill="#f8f8f8" opacity="0.54"/>
<circle cx="466.7" cy="438.9" r="0.76" fill="#b4b4b4" opacity="0.54"/>
<circle cx="462.9" cy="440.3" r="0.96" fill="#ececec" opacity="0.88"/>
<circle cx="466.6" cy="443.5" r="0.92" fill="#b4b4b4" opacity="0.84"/>
<circle cx="458.2" cy="435.9" r="0.68" fill="#f8f8f8" opacity="0.70"/>
<circle cx="460.1" cy="436.9" r="0.60" fill="#f8f8f8" opacity="0.67"/>
<circle cx="456.6" cy="447.6" r="0.68" fill="#ececec" opacity="0.82"/>
<circle cx="459.8" cy="437.4" r="0.58" fill="#f8f8f8" opacity="0.50"/>
<circle cx="461.5" cy="444.3" r="0.74" fill="#dadada" opacity="0.82"/>
<circle cx="466.1" cy="439.8" r="0.95" fill="#b4b4b4" opacity="0.61"/>
<circle cx="449.8" cy="443.9" r="0.58" fill="#ececec" opacity="0.69"/>
<circle cx="464.8" cy="448.9" r="0.94" fill="#dadada" opacity="0.88"/>
<circle cx="461.9" cy="445.3" r="0.84" fill="#ececec" opacity="0.85"/>
<circle cx="456.9" cy="447.1" r="0.63" fill="#c6c6c6" opacity="0.69"/>
<circle cx="457.7" cy="440.9" r="0.98" fill="#f8f8f8" opacity="0.80"/>
<circle cx="460.7" cy="437.2" r="0.95" fill="#dadada" opacity="0.50"/>
<circle cx="465.0" cy="438.8" r="0.99" fill="#dadada" opacity="1.00"/>
<circle cx="463.3" cy="435.1" r="0.77" fill="#b4b4b4" opacity="0.97"/>
<circle cx="450.8" cy="439.8" r="0.81" fill="#c6c6c6" opacity="0.72"/>
<circle cx="455.4" cy="441.6" r="1.04" fill="#b4b4b4" opacity="0.79"/>
<circle cx="469.7" cy="443.1" r="0.88" fill="#f8f8f8" opacity="0.55"/>
<circle cx="462.7" cy="434.6" r="0.94" fill="#f8f8f8" opacity="0.73"/>
<circle cx="455.3" cy="441.6" r="0.82" fill="#f8f8f8" opacity="0.61"/>
<circle cx="461.3" cy="450.4" r="0.92" fill="#c6c6c6" opacity="0.57"/>
<circle cx="459.2" cy="448.6" r="0.59" fill="#c6c6c6" opacity="0.65"/>
<circle cx="471.8" cy="441.0" r="0.88" fill="#f8f8f8" opacity="0.82"/>
<circle cx="460.3" cy="451.2" r="0.72" fill="#dadada" opacity="0.68"/>
</g>
<text x="460.3" y="496.6" text-anchor="middle" fill="#231815" style="font-size:10px;font-style:italic;" >Egr1</text>
<clipPath id="cg1"><rect x="41.1" y="513.2" width="129.8" height="97.59999999999991"/></clipPath>
<rect x="41.10" y="513.20" width="129.80" height="97.60" fill="url(#gbg1)" />
<g clip-path="url(#cg1)"><g filter="url(#b06)"><g filter="url(#mottP)">
<ellipse cx="76.4" cy="520.8" rx="10.9" ry="10.6" fill="url(#pcell)"/>
<ellipse cx="107.8" cy="534.7" rx="10.6" ry="10.6" fill="url(#pcell)"/>
<ellipse cx="58.3" cy="555.9" rx="7.5" ry="9.5" fill="url(#pcell)" transform="rotate(12 58.3 555.9)"/>
<ellipse cx="55.0" cy="570.2" rx="8.7" ry="8.6" fill="url(#pcell)" transform="rotate(-15 55.0 570.2)"/>
<ellipse cx="57.0" cy="585.0" rx="8.8" ry="7.4" fill="#a598d2"/><ellipse cx="59.6" cy="597.6" rx="7.2" ry="8.4" fill="#aa9fd5"/>
<ellipse cx="57.6" cy="584.4" rx="6.2" ry="4.8" fill="url(#pcell)"/>
<ellipse cx="59.0" cy="598.0" rx="4.8" ry="6.0" fill="url(#pcell)"/>
<ellipse cx="46.5" cy="601.8" rx="8.4" ry="10.6" fill="url(#pcell)"/>
<ellipse cx="100.7" cy="567.4" rx="8.8" ry="8.8" fill="url(#pcell)"/>
<ellipse cx="120.2" cy="589.6" rx="9.1" ry="9.1" fill="url(#pcell)"/>
<ellipse cx="86.0" cy="609.4" rx="9.3" ry="8.4" fill="url(#pcell)"/>
<ellipse cx="141.0" cy="606.6" rx="10.2" ry="9.8" fill="url(#pcell)"/>
<ellipse cx="160.1" cy="590.9" rx="9.3" ry="8.6" fill="url(#pcell)"/>
<ellipse cx="158.4" cy="606.0" rx="9.6" ry="10.2" fill="url(#pcell)"/>
<ellipse cx="172.4" cy="545.0" rx="4.3" ry="6.8" fill="url(#pcell)"/>
<ellipse cx="166.0" cy="511.6" rx="5.0" ry="3.0" fill="url(#pcell)"/>
</g>
<circle cx="132.6" cy="571.8" r="2.5" fill="#c39ccb" opacity="0.7"/><circle cx="131.7" cy="563.2" r="1.2" fill="#c9a6cf" opacity="0.6"/><circle cx="134.5" cy="568" r="0.9" fill="#c9a6cf" opacity="0.5"/>
<path d="M50.3,559.6 L64.2,565.3 M47,592.6 L62,590.2 M42,579 L50,582.5 L48.5,589 M52,584 L60,580.5 M50,592 L53,597 L60,595 M55,601 L63,598.5 M53.5,588 L57,591.5 M148.6,595.5 L149.4,611 M148.8,597.0 Q158,600.5 168,597.4" stroke="#e9f1f1" stroke-width="1.0" fill="none"/>
<g fill="#dfe6ee" opacity="0.55"><circle cx="57" cy="580" r="1.3"/><circle cx="61" cy="586" r="1.2"/><circle cx="54" cy="590" r="1.1"/><circle cx="60" cy="593.5" r="1.3"/><circle cx="51" cy="585" r="1"/><circle cx="58" cy="600" r="1.2"/><circle cx="63" cy="602" r="1"/></g>
</g></g>
<rect x="84.8" y="558.6" width="51.7" height="42.5" fill="none" stroke="#505457" stroke-width="0.75"/>
<text x="124.6" y="623.9" text-anchor="middle" fill="#231815" style="font-size:10px;" >Control</text>
<clipPath id="cg2"><rect x="176.2" y="542.2" width="81.80000000000001" height="67.0"/></clipPath>
<rect x="176.20" y="542.20" width="81.80" height="67.00" fill="url(#gbg1)" />
<g clip-path="url(#cg2)"><g filter="url(#b08)"><g filter="url(#mottP2)">
<ellipse cx="204.3" cy="557.5" rx="16.1" ry="13.6" fill="url(#pcell)"/>
<ellipse cx="233.2" cy="592.5" rx="14.9" ry="14.6" fill="url(#pcell)"/>
</g>
<g fill="#c095c8" opacity="0.75"><circle cx="251.5" cy="565" r="1.8"/><circle cx="248" cy="561" r="1"/><circle cx="255" cy="562" r="1"/><circle cx="249" cy="570" r="1.1"/><circle cx="254.5" cy="569" r="1"/><circle cx="252.5" cy="574" r="0.9"/><circle cx="252" cy="551" r="1.6" opacity="0.4"/></g>
</g></g>
<rect x="176.2" y="542.2" width="81.80000000000001" height="67.0" fill="none" stroke="#4a4a4a" stroke-width="0.9"/>
<clipPath id="cg3"><rect x="288.2" y="512.2" width="129.7" height="97.19999999999993"/></clipPath>
<rect x="288.20" y="512.20" width="129.70" height="97.20" fill="url(#gbg2)" />
<g clip-path="url(#cg3)"><g filter="url(#b06)"><g filter="url(#mottL)">
<g fill="#a9acd2" stroke="#9d9bce" stroke-width="0.5" transform="rotate(8 323.8 530.4)"><circle cx="334.2" cy="530.7" r="1.45"/><circle cx="333.3" cy="535.6" r="1.76"/><circle cx="331.4" cy="539.3" r="1.24"/><circle cx="327.2" cy="542.7" r="1.47"/><circle cx="323.3" cy="543.4" r="1.65"/><circle cx="320.6" cy="542.8" r="1.39"/><circle cx="316.8" cy="540.0" r="1.55"/><circle cx="314.2" cy="535.5" r="1.43"/><circle cx="313.4" cy="531.2" r="1.61"/><circle cx="313.9" cy="526.4" r="1.55"/><circle cx="316.2" cy="521.5" r="1.68"/><circle cx="320.0" cy="518.3" r="1.17"/><circle cx="323.1" cy="517.4" r="1.81"/><circle cx="327.7" cy="518.3" r="1.53"/><circle cx="331.0" cy="521.0" r="1.36"/><circle cx="333.3" cy="525.1" r="1.65"/></g>
<ellipse cx="323.8" cy="530.4" rx="10.799999999999999" ry="13.4" fill="url(#lcell)" stroke="#a3a3d0" stroke-width="0.5" transform="rotate(8 323.8 530.4)"/>
<g fill="#a9acd2" stroke="#9d9bce" stroke-width="0.5"><circle cx="380.0" cy="540.3" r="2.05"/><circle cx="379.6" cy="542.5" r="1.85"/><circle cx="377.6" cy="546.4" r="1.88"/><circle cx="373.5" cy="549.9" r="1.66"/><circle cx="370.9" cy="550.8" r="1.76"/><circle cx="365.3" cy="550.7" r="1.60"/><circle cx="362.0" cy="549.3" r="1.40"/><circle cx="359.6" cy="547.2" r="1.38"/><circle cx="357.5" cy="543.9" r="1.85"/><circle cx="356.6" cy="539.8" r="1.68"/><circle cx="357.6" cy="534.7" r="1.85"/><circle cx="358.9" cy="532.5" r="1.56"/><circle cx="361.9" cy="529.6" r="1.88"/><circle cx="366.2" cy="527.9" r="1.40"/><circle cx="370.4" cy="527.9" r="1.89"/><circle cx="374.1" cy="529.2" r="1.78"/><circle cx="377.7" cy="532.4" r="1.94"/><circle cx="379.0" cy="534.8" r="1.35"/></g>
<ellipse cx="368.3" cy="539.4" rx="12.2" ry="12.2" fill="url(#lcell)" stroke="#a3a3d0" stroke-width="0.5"/>
<g fill="#a9acd2" stroke="#9d9bce" stroke-width="0.5"><circle cx="345.3" cy="579.0" r="2.00"/><circle cx="344.5" cy="583.6" r="1.53"/><circle cx="343.3" cy="585.8" r="1.54"/><circle cx="340.6" cy="588.6" r="1.91"/><circle cx="336.7" cy="590.4" r="1.36"/><circle cx="332.2" cy="590.8" r="1.81"/><circle cx="328.4" cy="589.8" r="1.41"/><circle cx="325.7" cy="588.1" r="2.06"/><circle cx="322.8" cy="584.7" r="1.34"/><circle cx="321.8" cy="582.1" r="1.45"/><circle cx="321.6" cy="577.9" r="1.57"/><circle cx="323.0" cy="573.8" r="1.74"/><circle cx="324.8" cy="571.5" r="1.34"/><circle cx="328.0" cy="569.2" r="1.50"/><circle cx="332.5" cy="568.0" r="1.39"/><circle cx="336.8" cy="568.4" r="1.39"/><circle cx="339.7" cy="569.6" r="1.34"/><circle cx="343.2" cy="573.0" r="1.39"/><circle cx="344.6" cy="575.5" r="1.48"/></g>
<ellipse cx="333.4" cy="579.4" rx="12.4" ry="12.0" fill="url(#lcell)" stroke="#a3a3d0" stroke-width="0.5"/>
<g fill="#a9acd2" stroke="#9d9bce" stroke-width="0.5"><circle cx="381.3" cy="588.0" r="1.68"/><circle cx="380.8" cy="592.0" r="1.33"/><circle cx="379.0" cy="595.5" r="1.48"/><circle cx="375.1" cy="598.7" r="1.43"/><circle cx="372.1" cy="599.7" r="1.53"/><circle cx="368.7" cy="599.9" r="1.36"/><circle cx="364.9" cy="598.7" r="1.71"/><circle cx="361.7" cy="596.3" r="1.50"/><circle cx="359.5" cy="592.8" r="1.85"/><circle cx="358.7" cy="588.2" r="1.91"/><circle cx="359.1" cy="585.5" r="1.52"/><circle cx="361.5" cy="581.1" r="1.97"/><circle cx="363.6" cy="579.3" r="1.67"/><circle cx="368.0" cy="577.5" r="1.79"/><circle cx="372.6" cy="577.6" r="1.57"/><circle cx="376.4" cy="579.3" r="1.88"/><circle cx="378.5" cy="581.1" r="1.79"/><circle cx="380.9" cy="585.4" r="1.75"/></g>
<ellipse cx="370.0" cy="588.6" rx="11.799999999999999" ry="11.799999999999999" fill="url(#lcell)" stroke="#a3a3d0" stroke-width="0.5"/>
</g><g filter="url(#mottP)">
<ellipse cx="388.2" cy="511.5" rx="9.5" ry="7.0" fill="url(#pcell)"/>
<ellipse cx="306.8" cy="561.8" rx="10.4" ry="10.4" fill="url(#pcell)"/>
<ellipse cx="393.4" cy="576.2" rx="7.5" ry="7.5" fill="url(#pcell)"/>
<ellipse cx="363.6" cy="609.8" rx="9.0" ry="6.0" fill="url(#pcell)"/>
<circle cx="322.4" cy="536.7" r="4.6" fill="url(#nuc)"/>
<circle cx="366.0" cy="532.4" r="5.4" fill="url(#nuc)"/>
<circle cx="331.9" cy="578.0" r="5.6" fill="url(#nuc)"/>
<circle cx="375.0" cy="585.7" r="5.5" fill="url(#nuc)"/>
</g>
<ellipse cx="400.2" cy="597.3" rx="1.5" ry="1.0" fill="#222"/>
</g></g>
<rect x="355.2" y="565.5" width="51.2" height="41.8" fill="none" stroke="#4c4f50" stroke-width="0.75"/>
<text x="359.0" y="623.9" text-anchor="middle" fill="#231815" style="font-size:10px;font-style:italic;" >Egr1</text>
<clipPath id="cg4"><rect x="422.4" y="542.4" width="81.5" height="66.89999999999998"/></clipPath>
<rect x="422.40" y="542.40" width="81.50" height="66.90" fill="url(#gbg2)" />
<g clip-path="url(#cg4)"><g filter="url(#b08)"><g filter="url(#mottL2)">
<g fill="#a9acd2" stroke="#9d9bce" stroke-width="0.5"><circle cx="464.5" cy="580.7" r="2.98"/><circle cx="464.0" cy="585.3" r="2.41"/><circle cx="462.8" cy="588.7" r="3.15"/><circle cx="460.8" cy="592.0" r="2.68"/><circle cx="457.7" cy="595.1" r="2.09"/><circle cx="454.4" cy="597.1" r="2.44"/><circle cx="450.7" cy="598.5" r="2.95"/><circle cx="446.6" cy="599.0" r="3.13"/><circle cx="443.1" cy="598.7" r="2.05"/><circle cx="439.3" cy="597.6" r="2.08"/><circle cx="436.0" cy="595.9" r="3.07"/><circle cx="432.6" cy="592.9" r="2.41"/><circle cx="430.3" cy="589.7" r="2.36"/><circle cx="429.1" cy="587.1" r="2.26"/><circle cx="428.2" cy="582.8" r="2.79"/><circle cx="428.2" cy="579.8" r="2.93"/><circle cx="428.9" cy="576.1" r="2.81"/><circle cx="430.2" cy="572.8" r="2.75"/><circle cx="433.0" cy="569.0" r="2.42"/><circle cx="436.0" cy="566.5" r="2.75"/><circle cx="438.8" cy="565.0" r="2.94"/><circle cx="443.2" cy="563.7" r="2.06"/><circle cx="447.1" cy="563.4" r="2.73"/><circle cx="450.2" cy="563.8" r="2.90"/><circle cx="455.4" cy="565.8" r="3.07"/><circle cx="457.8" cy="567.4" r="2.27"/><circle cx="460.9" cy="570.5" r="2.97"/><circle cx="462.7" cy="573.4" r="2.80"/><circle cx="463.9" cy="576.6" r="2.45"/></g>
<ellipse cx="446.3" cy="581.2" rx="19.200000000000003" ry="18.8" fill="url(#lcell)" stroke="#a3a3d0" stroke-width="0.5"/>
<ellipse cx="435.6" cy="611.2" rx="9.6" ry="6.2" fill="#9a90cf"/>
<ellipse cx="482.8" cy="561.1" rx="12.3" ry="11.2" fill="#a79fd6"/>
</g><g filter="url(#mottP2)">
<ellipse cx="482.6" cy="561.0" rx="10.2" ry="9.3" fill="url(#pcell)"/>
<circle cx="452.9" cy="574.7" r="6.9" fill="url(#nuc)"/>
</g>
<circle cx="484.5" cy="559" r="1.5" fill="#b9a6dc" opacity="0.8"/><circle cx="481" cy="564.5" r="1.3" fill="#b9a6dc" opacity="0.8"/>
<ellipse cx="492.7" cy="594.5" rx="1.7" ry="1.25" fill="#1c1c1c"/><path d="M494.5,565.6 l2.6,0.8" stroke="#333" stroke-width="0.7"/>
</g></g>
<rect x="422.4" y="542.4" width="81.5" height="66.89999999999998" fill="none" stroke="#4a4a4a" stroke-width="0.9"/>
</svg>
</body></html>
